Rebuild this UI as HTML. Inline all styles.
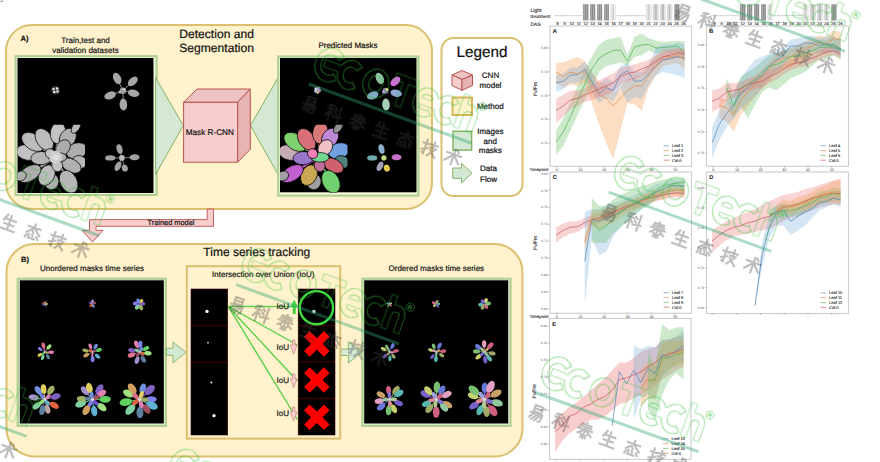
<!DOCTYPE html>
<html><head><meta charset="utf-8">
<style>
html,body{margin:0;padding:0;background:#fff;width:880px;height:462px;overflow:hidden}
svg{display:block;font-family:"Liberation Sans",sans-serif;text-rendering:geometricPrecision}
.tx{stroke:#1a1a1a;stroke-width:0.22px}
.t2{stroke:#333;stroke-width:0.12px}
</style></head><body>
<svg width="880" height="462" viewBox="0 0 880 462">
<path d="M0 1.4H2.5V0" fill="none" stroke="#999" stroke-width="0.9"/>
<!-- PANEL A -->
<rect x="6" y="25" width="426" height="184" rx="26" fill="#fff2cc" stroke="#dcc070" stroke-width="2"/>
<text class="tx" x="20.5" y="40.8" font-size="7.6" font-weight="bold" fill="#111">A)</text>
<text class="tx" x="85.5" y="43.3" font-size="8" text-anchor="middle" fill="#222">Train,test and</text>
<text class="tx" x="85.5" y="53" font-size="8" text-anchor="middle" fill="#222">validation datasets</text>
<text class="tx" x="216.6" y="38.3" font-size="12.1" text-anchor="middle" fill="#111">Detection and</text>
<text class="tx" x="216.6" y="52.3" font-size="12.1" text-anchor="middle" fill="#111">Segmentation</text>
<text class="tx" x="348" y="48" font-size="8" text-anchor="middle" fill="#111">Predicted Masks</text>
<rect x="15.6" y="56.2" width="141" height="138.8" fill="#fbfae2" stroke="#aed093" stroke-width="2.2"/>
<rect x="17.5" y="58" width="136" height="135" fill="#000"/>
<path d="M155.6 77.6 L183.3 125.6 L155.6 174.4 Z" fill="#d5e8d4" stroke="#82b366" stroke-width="1"/>
<path d="M278 77.6 L250.5 125.6 L278 174.4 Z" fill="#d5e8d4" stroke="#82b366" stroke-width="1"/>
<path d="M183.6 102.3 L197 89 L250.3 89 L237.6 102.3 Z" fill="#efc3c1" stroke="#b85450" stroke-width="1"/>
<path d="M237.6 102.3 L250.3 89 L250.3 149.3 L237.6 162.2 Z" fill="#e6b5b3" stroke="#b85450" stroke-width="1"/>
<rect x="183.6" y="102.3" width="54" height="59.9" fill="#f8cecc" stroke="#b85450" stroke-width="1"/>
<text class="tx" x="209.8" y="135.0" font-size="8.2" text-anchor="middle" fill="#111">Mask R-CNN</text>
<rect x="278.2" y="56.5" width="140.2" height="139.1" fill="#fbfae2" stroke="#aed093" stroke-width="2.2"/>
<rect x="280" y="58" width="136.5" height="134.3" fill="#000"/>
<!-- legend -->
<rect x="441.5" y="38" width="81" height="158" rx="12" fill="#fff" stroke="#dcc070" stroke-width="2"/>
<text class="tx" x="481.9" y="56.8" font-size="15.3" text-anchor="middle" fill="#111">Legend</text>
<g stroke="#b85450" stroke-width="1">
<path d="M452 75 L462 70.5 L472.5 75 L462 79.5 Z" fill="#efc3c1"/>
<path d="M452 75 L462 79.5 L462 90.3 L452 85.5 Z" fill="#f8cecc"/>
<path d="M462 79.5 L472.5 75 L472.5 85.5 L462 90.3 Z" fill="#e6b5b3"/>
</g>
<text class="tx" x="490.5" y="78.2" font-size="8" text-anchor="middle" fill="#111">CNN</text>
<text class="tx" x="490.5" y="87.5" font-size="8" text-anchor="middle" fill="#111">model</text>
<rect x="452.5" y="97.5" width="19.5" height="17.5" fill="#fff2cc" stroke="#d6b656" stroke-width="2"/>
<text class="tx" x="490.3" y="109.4" font-size="8" text-anchor="middle" fill="#111">Method</text>
<rect x="453" y="131.3" width="18.6" height="18.8" fill="#d5e8d4" stroke="#82b366" stroke-width="1.5"/>
<text class="tx" x="490.3" y="133.8" font-size="8" text-anchor="middle" fill="#111">Images</text>
<text class="tx" x="490.3" y="143.5" font-size="8" text-anchor="middle" fill="#111">and</text>
<text class="tx" x="490.3" y="152.8" font-size="8" text-anchor="middle" fill="#111">masks</text>
<path d="M452.8 168 L461.5 168 L461.5 163.3 L472 173.2 L461.5 183 L461.5 178.3 L452.8 178.3 Z" fill="#d5e8d4" stroke="#82b366" stroke-width="1"/>
<text class="tx" x="488.5" y="171.2" font-size="8" text-anchor="middle" fill="#111">Data</text>
<text class="tx" x="488.5" y="181.6" font-size="8" text-anchor="middle" fill="#111">Flow</text>
<path d="M207.2 209 L207.2 219.6 L89.5 219.6 L89.5 230.3 L82 230.3 L92.5 242 L103 230.3 L96 230.3 L96 226.3 L213.5 226.3 L213.5 209 Z" fill="#f8cecc" stroke="#b85450" stroke-width="0.9"/>
<text class="tx" x="171" y="225.3" font-size="7.4" text-anchor="middle" fill="#111">Trained model</text>
<!-- PANEL B -->
<rect x="6.5" y="244" width="516" height="212.5" rx="28" fill="#fff2cc" stroke="#dcc070" stroke-width="2"/>
<text class="tx" x="21" y="262.3" font-size="7.6" font-weight="bold" fill="#111">B)</text>
<text class="tx" x="256.8" y="255.7" font-size="12" text-anchor="middle" fill="#111">Time series tracking</text>
<text class="tx" x="92" y="270.7" font-size="8" text-anchor="middle" fill="#222">Unordered masks time series</text>
<text class="tx" x="436.3" y="270.5" font-size="8" text-anchor="middle" fill="#222">Ordered masks time series</text>
<rect x="17.7" y="278.7" width="148.1" height="147.2" fill="#e8f0d8" stroke="#aed093" stroke-width="2.2"/>
<rect x="19.8" y="280.3" width="144" height="143.2" fill="#000"/>
<rect x="362.4" y="278.7" width="148.1" height="147.2" fill="#e8f0d8" stroke="#aed093" stroke-width="2.2"/>
<rect x="364.2" y="280.3" width="144" height="143.2" fill="#000"/>
<path d="M166.5 348.2 L173 348.2 L173 342.1 L186 352.3 L173 362.9 L173 355.3 L166.5 355.3 Z" fill="#d5e8d4" stroke="#82b366" stroke-width="0.9"/>
<path d="M340.8 349 L348.4 349 L348.4 341.7 L362 352.3 L348.4 363 L348.4 355.5 L340.8 355.5 Z" fill="#d5e8d4" stroke="#82b366" stroke-width="0.9"/>
<!-- IoU box -->
<rect x="186.8" y="266.2" width="153.4" height="172.4" fill="#fff2cc" stroke="#dcc070" stroke-width="2"/>
<text class="tx" x="263.2" y="276.8" font-size="8" text-anchor="middle" fill="#222">Intersection over Union (IoU)</text>

<g>
<circle cx="55.5" cy="90.2" r="4.2" fill="#3c3c3c"/>
<circle cx="53.5" cy="89.0" r="1.25" fill="#e8e8e8"/>
<circle cx="57.1" cy="88.6" r="1.25" fill="#e8e8e8"/>
<circle cx="54.3" cy="92.0" r="1.25" fill="#e8e8e8"/>
<circle cx="57.5" cy="91.4" r="1.25" fill="#e8e8e8"/>
<line x1="122.9" y1="90.7" x2="117.2" y2="78.4" stroke="#999" stroke-width="0.9"/>
<ellipse cx="117.2" cy="78.4" rx="6.0" ry="3.8" transform="rotate(-115 117.2 78.4)" fill="#a6a6a6"/>
<line x1="122.9" y1="90.7" x2="132.8" y2="81.4" stroke="#999" stroke-width="0.9"/>
<ellipse cx="132.8" cy="81.4" rx="5.8" ry="3.7" transform="rotate(-43 132.8 81.4)" fill="#a6a6a6"/>
<line x1="122.9" y1="90.7" x2="133.6" y2="93.2" stroke="#999" stroke-width="0.9"/>
<ellipse cx="133.6" cy="93.2" rx="5.8" ry="3.6" transform="rotate(13 133.6 93.2)" fill="#a6a6a6"/>
<line x1="122.9" y1="90.7" x2="123.4" y2="104.5" stroke="#999" stroke-width="0.9"/>
<ellipse cx="123.4" cy="104.5" rx="6.0" ry="3.8" transform="rotate(88 123.4 104.5)" fill="#a6a6a6"/>
<line x1="122.9" y1="90.7" x2="110.1" y2="95.4" stroke="#999" stroke-width="0.9"/>
<ellipse cx="110.1" cy="95.4" rx="6.0" ry="3.7" transform="rotate(160 110.1 95.4)" fill="#a6a6a6"/>
<circle cx="122.9" cy="90.7" r="3.2" fill="#9a9a9a"/>
<circle cx="124" cy="89.6" r="1.5" fill="#c8c8c8"/>
<circle cx="120" cy="92" r="1.5" fill="#b8b8b8"/>
<line x1="121.9" y1="157.9" x2="119.5" y2="149.1" stroke="#999" stroke-width="0.8"/>
<ellipse cx="119.5" cy="149.1" rx="4.9" ry="2.9" transform="rotate(-105 119.5 149.1)" fill="#a2a2a2"/>
<line x1="121.9" y1="157.9" x2="110.2" y2="157.9" stroke="#999" stroke-width="0.8"/>
<ellipse cx="110.2" cy="157.9" rx="5.1" ry="2.7" transform="rotate(180 110.2 157.9)" fill="#a2a2a2"/>
<line x1="121.9" y1="157.9" x2="134.6" y2="157.2" stroke="#999" stroke-width="0.8"/>
<ellipse cx="134.6" cy="157.2" rx="5.0" ry="3.0" transform="rotate(-3 134.6 157.2)" fill="#a2a2a2"/>
<line x1="121.9" y1="157.9" x2="118.0" y2="166.2" stroke="#999" stroke-width="0.8"/>
<ellipse cx="118.0" cy="166.2" rx="5.0" ry="2.8" transform="rotate(115 118.0 166.2)" fill="#a2a2a2"/>
<line x1="121.9" y1="157.9" x2="124.8" y2="168.1" stroke="#999" stroke-width="0.8"/>
<ellipse cx="124.8" cy="168.1" rx="3.6" ry="3.0" transform="rotate(74 124.8 168.1)" fill="#a2a2a2"/>
<circle cx="121.9" cy="157.9" r="2.8" fill="#bbb"/>
<clipPath id="cqA"><rect x="17.5" y="124.8" width="67.5" height="68"/></clipPath>
<g clip-path="url(#cqA)">
<line x1="55.7" y1="157.3" x2="28.1" y2="152.5" stroke="#c2c2c2" stroke-width="2.0"/><ellipse cx="28.1" cy="152.5" rx="12.1" ry="7.8" transform="rotate(-170 28.1 152.5)" fill="#c2c2c2" stroke="#000" stroke-width="0.7"/>
<line x1="55.7" y1="157.3" x2="32.9" y2="141.9" stroke="#bcbcbc" stroke-width="2.0"/><ellipse cx="32.9" cy="141.9" rx="12.6" ry="7.8" transform="rotate(-146 32.9 141.9)" fill="#bcbcbc" stroke="#000" stroke-width="0.7"/>
<line x1="55.7" y1="157.3" x2="44.3" y2="139.5" stroke="#bcbcbc" stroke-width="2.0"/><ellipse cx="44.3" cy="139.5" rx="12.1" ry="7.8" transform="rotate(-123 44.3 139.5)" fill="#bcbcbc" stroke="#000" stroke-width="0.7"/>
<line x1="55.7" y1="157.3" x2="58.1" y2="133.0" stroke="#c2c2c2" stroke-width="2.0"/><ellipse cx="58.1" cy="133.0" rx="10.9" ry="7.8" transform="rotate(-84 58.1 133.0)" fill="#c2c2c2" stroke="#000" stroke-width="0.7"/>
<line x1="55.7" y1="157.3" x2="67.8" y2="137.9" stroke="#b0b0b0" stroke-width="2.0"/><ellipse cx="67.8" cy="137.9" rx="10.3" ry="7.8" transform="rotate(-58 67.8 137.9)" fill="#b0b0b0" stroke="#000" stroke-width="0.7"/>
<line x1="55.7" y1="157.3" x2="76.7" y2="150.8" stroke="#acacac" stroke-width="2.0"/><ellipse cx="76.7" cy="150.8" rx="10.9" ry="7.8" transform="rotate(-17 76.7 150.8)" fill="#acacac" stroke="#000" stroke-width="0.7"/>
<line x1="55.7" y1="157.3" x2="79.2" y2="162.2" stroke="#b6b6b6" stroke-width="2.0"/><ellipse cx="79.2" cy="162.2" rx="7.5" ry="6.6" transform="rotate(12 79.2 162.2)" fill="#b6b6b6" stroke="#000" stroke-width="0.7"/>
<line x1="55.7" y1="157.3" x2="71.1" y2="165.5" stroke="#b0b0b0" stroke-width="2.0"/><ellipse cx="71.1" cy="165.5" rx="10.9" ry="6.6" transform="rotate(28 71.1 165.5)" fill="#b0b0b0" stroke="#000" stroke-width="0.7"/>
<line x1="55.7" y1="157.3" x2="68.6" y2="181.7" stroke="#b6b6b6" stroke-width="2.0"/><ellipse cx="68.6" cy="181.7" rx="12.1" ry="8.4" transform="rotate(62 68.6 181.7)" fill="#b6b6b6" stroke="#000" stroke-width="0.7"/>
<line x1="55.7" y1="157.3" x2="51.6" y2="181.7" stroke="#b0b0b0" stroke-width="2.0"/><ellipse cx="51.6" cy="181.7" rx="8.0" ry="7.2" transform="rotate(100 51.6 181.7)" fill="#b0b0b0" stroke="#000" stroke-width="0.7"/>
<line x1="55.7" y1="157.3" x2="46.7" y2="175.2" stroke="#bcbcbc" stroke-width="2.0"/><ellipse cx="46.7" cy="175.2" rx="10.9" ry="7.8" transform="rotate(117 46.7 175.2)" fill="#bcbcbc" stroke="#000" stroke-width="0.7"/>
<line x1="55.7" y1="157.3" x2="29.7" y2="173.6" stroke="#acacac" stroke-width="2.0"/><ellipse cx="29.7" cy="173.6" rx="12.6" ry="7.2" transform="rotate(148 29.7 173.6)" fill="#acacac" stroke="#000" stroke-width="0.7"/>
<line x1="55.7" y1="157.3" x2="41.0" y2="158.1" stroke="#b6b6b6" stroke-width="2.0"/><ellipse cx="41.0" cy="158.1" rx="10.3" ry="6.6" transform="rotate(177 41.0 158.1)" fill="#b6b6b6" stroke="#000" stroke-width="0.7"/>
<line x1="55.7" y1="157.3" x2="63.0" y2="147.6" stroke="#acacac" stroke-width="2.0"/><ellipse cx="63.0" cy="147.6" rx="8.6" ry="6.6" transform="rotate(-53 63.0 147.6)" fill="#acacac" stroke="#000" stroke-width="0.7"/>
<line x1="55.7" y1="157.3" x2="57.3" y2="165.5" stroke="#c2c2c2" stroke-width="2.0"/><ellipse cx="57.3" cy="165.5" rx="6.3" ry="5.4" transform="rotate(79 57.3 165.5)" fill="#c2c2c2" stroke="#000" stroke-width="0.7"/>
<line x1="55.7" y1="157.3" x2="57.6" y2="157.3" stroke="#b0b0b0" stroke-width="2.0"/><ellipse cx="57.6" cy="157.3" rx="9.2" ry="4.8" transform="rotate(0 57.6 157.3)" fill="#b0b0b0" stroke="#000" stroke-width="0.7"/>
<line x1="55.7" y1="157.3" x2="50.3" y2="153.6" stroke="#c2c2c2" stroke-width="2.0"/><ellipse cx="50.3" cy="153.6" rx="5.2" ry="4.8" transform="rotate(-146 50.3 153.6)" fill="#c2c2c2" stroke="#000" stroke-width="0.7"/>
<ellipse cx="76.0" cy="127.3" rx="6.9" ry="3.6" transform="rotate(-56 76.0 127.3)" fill="#b6b6b6" stroke="#000" stroke-width="0.7"/>
<ellipse cx="20.7" cy="176.0" rx="5.8" ry="4.8" transform="rotate(152 20.7 176.0)" fill="#b0b0b0" stroke="#000" stroke-width="0.7"/>
<circle cx="55.7" cy="157.3" r="6.5" fill="#cfcfcf"/>
<circle cx="55.7" cy="157.3" r="3" fill="#dedede"/>
</g>
</g>
<g>
<circle cx="317.4" cy="90.2" r="3.4" fill="#5a4a60"/>
<ellipse cx="319.4" cy="90.5" rx="1.5" ry="1.2" transform="rotate(10 319.4 90.5)" fill="#d08ad0"/>
<ellipse cx="317.7" cy="92.2" rx="1.5" ry="1.2" transform="rotate(82 317.7 92.2)" fill="#e0d080"/>
<ellipse cx="315.6" cy="91.1" rx="1.5" ry="1.2" transform="rotate(154 315.6 91.1)" fill="#a0c0e0"/>
<ellipse cx="316.0" cy="88.8" rx="1.5" ry="1.2" transform="rotate(226 316.0 88.8)" fill="#e8e8e8"/>
<ellipse cx="318.3" cy="88.4" rx="1.5" ry="1.2" transform="rotate(298 318.3 88.4)" fill="#c0a0e0"/>
<ellipse cx="379.8" cy="78.4" rx="6.0" ry="3.8" transform="rotate(-115 379.8 78.4)" fill="#8fc0a0"/>
<ellipse cx="395.4" cy="81.4" rx="5.8" ry="3.7" transform="rotate(-43 395.4 81.4)" fill="#d070d8"/>
<ellipse cx="396.2" cy="93.2" rx="5.8" ry="3.6" transform="rotate(13 396.2 93.2)" fill="#8aa8d0"/>
<ellipse cx="386.0" cy="104.5" rx="6.0" ry="3.8" transform="rotate(88 386.0 104.5)" fill="#a8d0b8"/>
<ellipse cx="372.7" cy="95.4" rx="6.0" ry="3.7" transform="rotate(160 372.7 95.4)" fill="#7fa8c0"/>
<circle cx="385.5" cy="90.7" r="3.0" fill="#8878a8"/>
<circle cx="387" cy="89.5" r="1.5" fill="#e8e080"/>
<circle cx="383.5" cy="92" r="1.4" fill="#c0a0e0"/>
<ellipse cx="381.5" cy="149.1" rx="4.9" ry="2.9" transform="rotate(-105 381.5 149.1)" fill="#90b0d0"/>
<ellipse cx="372.2" cy="157.9" rx="5.1" ry="2.7" transform="rotate(180 372.2 157.9)" fill="#70a8b0"/>
<ellipse cx="396.6" cy="157.2" rx="5.0" ry="3.0" transform="rotate(-3 396.6 157.2)" fill="#c870c8"/>
<ellipse cx="380.0" cy="166.2" rx="5.0" ry="2.8" transform="rotate(115 380.0 166.2)" fill="#a0a0b8"/>
<ellipse cx="386.8" cy="168.1" rx="3.6" ry="3.0" transform="rotate(74 386.8 168.1)" fill="#e0c850"/>
<circle cx="383.9" cy="157.9" r="2.6" fill="#c0e080"/>
<clipPath id="cqB"><rect x="280.0" y="124.8" width="67.5" height="68"/></clipPath>
<g clip-path="url(#cqB)">
<line x1="318.0" y1="157.3" x2="290.4" y2="152.5" stroke="#c4aab4" stroke-width="2.0"/><ellipse cx="290.4" cy="152.5" rx="12.1" ry="7.8" transform="rotate(-170 290.4 152.5)" fill="#c4aab4" stroke="#000" stroke-width="0.7"/>
<line x1="318.0" y1="157.3" x2="295.2" y2="141.9" stroke="#80d070" stroke-width="2.0"/><ellipse cx="295.2" cy="141.9" rx="12.6" ry="7.8" transform="rotate(-146 295.2 141.9)" fill="#80d070" stroke="#000" stroke-width="0.7"/>
<line x1="318.0" y1="157.3" x2="306.6" y2="139.5" stroke="#d8707a" stroke-width="2.0"/><ellipse cx="306.6" cy="139.5" rx="12.1" ry="7.8" transform="rotate(-123 306.6 139.5)" fill="#d8707a" stroke="#000" stroke-width="0.7"/>
<line x1="318.0" y1="157.3" x2="320.4" y2="133.0" stroke="#d87878" stroke-width="2.0"/><ellipse cx="320.4" cy="133.0" rx="10.9" ry="7.8" transform="rotate(-84 320.4 133.0)" fill="#d87878" stroke="#000" stroke-width="0.7"/>
<line x1="318.0" y1="157.3" x2="330.1" y2="137.9" stroke="#c088d8" stroke-width="2.0"/><ellipse cx="330.1" cy="137.9" rx="10.3" ry="7.8" transform="rotate(-58 330.1 137.9)" fill="#c088d8" stroke="#000" stroke-width="0.7"/>
<line x1="318.0" y1="157.3" x2="339.0" y2="150.8" stroke="#70a0e0" stroke-width="2.0"/><ellipse cx="339.0" cy="150.8" rx="10.9" ry="7.8" transform="rotate(-17 339.0 150.8)" fill="#70a0e0" stroke="#000" stroke-width="0.7"/>
<line x1="318.0" y1="157.3" x2="341.5" y2="162.2" stroke="#508080" stroke-width="2.0"/><ellipse cx="341.5" cy="162.2" rx="7.5" ry="6.6" transform="rotate(12 341.5 162.2)" fill="#508080" stroke="#000" stroke-width="0.7"/>
<line x1="318.0" y1="157.3" x2="333.4" y2="165.5" stroke="#d06070" stroke-width="2.0"/><ellipse cx="333.4" cy="165.5" rx="10.9" ry="6.6" transform="rotate(28 333.4 165.5)" fill="#d06070" stroke="#000" stroke-width="0.7"/>
<line x1="318.0" y1="157.3" x2="330.9" y2="181.7" stroke="#70d070" stroke-width="2.0"/><ellipse cx="330.9" cy="181.7" rx="12.1" ry="8.4" transform="rotate(62 330.9 181.7)" fill="#70d070" stroke="#000" stroke-width="0.7"/>
<line x1="318.0" y1="157.3" x2="313.9" y2="181.7" stroke="#a0a0a0" stroke-width="2.0"/><ellipse cx="313.9" cy="181.7" rx="8.0" ry="7.2" transform="rotate(100 313.9 181.7)" fill="#a0a0a0" stroke="#000" stroke-width="0.7"/>
<line x1="318.0" y1="157.3" x2="309.0" y2="175.2" stroke="#c8a850" stroke-width="2.0"/><ellipse cx="309.0" cy="175.2" rx="10.9" ry="7.8" transform="rotate(117 309.0 175.2)" fill="#c8a850" stroke="#000" stroke-width="0.7"/>
<line x1="318.0" y1="157.3" x2="292.0" y2="173.6" stroke="#c060d0" stroke-width="2.0"/><ellipse cx="292.0" cy="173.6" rx="12.6" ry="7.2" transform="rotate(148 292.0 173.6)" fill="#c060d0" stroke="#000" stroke-width="0.7"/>
<line x1="318.0" y1="157.3" x2="303.3" y2="158.1" stroke="#9878c8" stroke-width="2.0"/><ellipse cx="303.3" cy="158.1" rx="10.3" ry="6.6" transform="rotate(177 303.3 158.1)" fill="#9878c8" stroke="#000" stroke-width="0.7"/>
<line x1="318.0" y1="157.3" x2="325.3" y2="147.6" stroke="#f0c0c8" stroke-width="2.0"/><ellipse cx="325.3" cy="147.6" rx="8.6" ry="6.6" transform="rotate(-53 325.3 147.6)" fill="#f0c0c8" stroke="#000" stroke-width="0.7"/>
<line x1="318.0" y1="157.3" x2="319.6" y2="165.5" stroke="#c07098" stroke-width="2.0"/><ellipse cx="319.6" cy="165.5" rx="6.3" ry="5.4" transform="rotate(79 319.6 165.5)" fill="#c07098" stroke="#000" stroke-width="0.7"/>
<line x1="318.0" y1="157.3" x2="319.9" y2="157.3" stroke="#70d890" stroke-width="2.0"/><ellipse cx="319.9" cy="157.3" rx="9.2" ry="4.8" transform="rotate(0 319.9 157.3)" fill="#70d890" stroke="#000" stroke-width="0.7"/>
<line x1="318.0" y1="157.3" x2="312.6" y2="153.6" stroke="#f080b8" stroke-width="2.0"/><ellipse cx="312.6" cy="153.6" rx="5.2" ry="4.8" transform="rotate(-146 312.6 153.6)" fill="#f080b8" stroke="#000" stroke-width="0.7"/>
<ellipse cx="338.3" cy="127.3" rx="6.9" ry="3.6" transform="rotate(-56 338.3 127.3)" fill="#909090" stroke="#000" stroke-width="0.7"/>
<ellipse cx="283.0" cy="176.0" rx="5.8" ry="4.8" transform="rotate(152 283.0 176.0)" fill="#a0a0a0" stroke="#000" stroke-width="0.7"/>
</g>
</g>
<ellipse cx="43.4" cy="303.1" rx="1.2" ry="0.8" transform="rotate(212 43.4 303.1)" fill="#e07090"/>
<ellipse cx="45.4" cy="302.4" rx="1.2" ry="0.9" transform="rotate(291 45.4 302.4)" fill="#d0a060"/>
<ellipse cx="46.6" cy="304.0" rx="1.3" ry="0.9" transform="rotate(361 46.6 304.0)" fill="#e0d060"/>
<ellipse cx="45.5" cy="305.3" rx="1.1" ry="0.8" transform="rotate(422 45.5 305.3)" fill="#a090d0"/>
<ellipse cx="43.3" cy="304.8" rx="1.2" ry="0.9" transform="rotate(510 43.3 304.8)" fill="#8060c0"/>
<ellipse cx="44.9" cy="303.2" rx="0.6" ry="0.3" transform="rotate(280 44.9 303.2)" fill="#60b0d0"/>
<ellipse cx="45.4" cy="304.5" rx="0.6" ry="0.3" transform="rotate(400 45.4 304.5)" fill="#80d0a0"/>
<ellipse cx="44.1" cy="304.3" rx="0.6" ry="0.3" transform="rotate(520 44.1 304.3)" fill="#6080a0"/>
<circle cx="44.8" cy="304.0" r="0.6" fill="#d8d8d8"/>
<ellipse cx="93.4" cy="306.1" rx="1.6" ry="1.2" transform="rotate(67 93.4 306.1)" fill="#8080f0"/>
<ellipse cx="90.9" cy="305.5" rx="1.6" ry="1.2" transform="rotate(137 90.9 305.5)" fill="#e06040"/>
<ellipse cx="90.4" cy="302.9" rx="1.7" ry="1.2" transform="rotate(206 90.4 302.9)" fill="#7050d0"/>
<ellipse cx="92.6" cy="301.3" rx="1.9" ry="1.4" transform="rotate(273 92.6 301.3)" fill="#a090d0"/>
<ellipse cx="94.6" cy="303.1" rx="1.6" ry="1.2" transform="rotate(337 94.6 303.1)" fill="#a05060"/>
<ellipse cx="93.5" cy="303.4" rx="0.9" ry="0.5" transform="rotate(329 93.5 303.4)" fill="#8060c0"/>
<ellipse cx="92.5" cy="305.2" rx="0.9" ry="0.5" transform="rotate(449 92.5 305.2)" fill="#60d060"/>
<ellipse cx="91.5" cy="303.4" rx="0.9" ry="0.5" transform="rotate(569 91.5 303.4)" fill="#c0a0a0"/>
<circle cx="92.5" cy="304.0" r="0.6" fill="#d8d8d8"/>
<ellipse cx="141.4" cy="301.3" rx="2.3" ry="1.7" transform="rotate(304 141.4 301.3)" fill="#e0d060"/>
<ellipse cx="142.9" cy="303.8" rx="2.4" ry="1.7" transform="rotate(357 142.9 303.8)" fill="#8060c0"/>
<ellipse cx="141.0" cy="307.6" rx="2.8" ry="2.0" transform="rotate(429 141.0 307.6)" fill="#a0b060"/>
<ellipse cx="137.3" cy="307.0" rx="2.8" ry="2.0" transform="rotate(488 137.3 307.0)" fill="#80d0a0"/>
<ellipse cx="135.7" cy="303.6" rx="2.8" ry="2.0" transform="rotate(546 135.7 303.6)" fill="#8080f0"/>
<ellipse cx="138.3" cy="300.9" rx="2.5" ry="1.8" transform="rotate(607 138.3 300.9)" fill="#7090e0"/>
<ellipse cx="140.6" cy="302.6" rx="1.3" ry="0.7" transform="rotate(306 140.6 302.6)" fill="#d0a060"/>
<ellipse cx="140.3" cy="305.5" rx="1.3" ry="0.7" transform="rotate(426 140.3 305.5)" fill="#a090d0"/>
<ellipse cx="137.9" cy="303.8" rx="1.3" ry="0.7" transform="rotate(546 137.9 303.8)" fill="#7050d0"/>
<circle cx="139.6" cy="304.0" r="0.6" fill="#d8d8d8"/>
<line x1="44.8" y1="352.0" x2="49.0" y2="346.9" stroke="#a0e080" stroke-width="0.6"/>
<ellipse cx="49.0" cy="346.9" rx="3.0" ry="1.8" transform="rotate(310 49.0 346.9)" fill="#a0e080"/>
<line x1="44.8" y1="352.0" x2="51.2" y2="352.2" stroke="#e080b0" stroke-width="0.6"/>
<ellipse cx="51.2" cy="352.2" rx="2.9" ry="1.7" transform="rotate(362 51.2 352.2)" fill="#e080b0"/>
<line x1="44.8" y1="352.0" x2="48.0" y2="356.8" stroke="#6080a0" stroke-width="0.6"/>
<ellipse cx="48.0" cy="356.8" rx="2.6" ry="1.6" transform="rotate(417 48.0 356.8)" fill="#6080a0"/>
<line x1="44.8" y1="352.0" x2="42.7" y2="357.5" stroke="#80d0a0" stroke-width="0.6"/>
<ellipse cx="42.7" cy="357.5" rx="2.7" ry="1.6" transform="rotate(471 42.7 357.5)" fill="#80d0a0"/>
<line x1="44.8" y1="352.0" x2="39.9" y2="354.9" stroke="#e0d060" stroke-width="0.6"/>
<ellipse cx="39.9" cy="354.9" rx="2.5" ry="1.5" transform="rotate(509 39.9 354.9)" fill="#e0d060"/>
<line x1="44.8" y1="352.0" x2="40.1" y2="349.0" stroke="#8080f0" stroke-width="0.6"/>
<ellipse cx="40.1" cy="349.0" rx="2.5" ry="1.5" transform="rotate(573 40.1 349.0)" fill="#8080f0"/>
<line x1="44.8" y1="352.0" x2="43.4" y2="345.5" stroke="#e07090" stroke-width="0.6"/>
<ellipse cx="43.4" cy="345.5" rx="3.0" ry="1.8" transform="rotate(618 43.4 345.5)" fill="#e07090"/>
<ellipse cx="43.0" cy="353.7" rx="1.9" ry="1.0" transform="rotate(137 43.0 353.7)" fill="#60d060"/>
<ellipse cx="44.3" cy="349.6" rx="1.9" ry="1.0" transform="rotate(257 44.3 349.6)" fill="#a05060"/>
<ellipse cx="47.2" cy="352.7" rx="1.9" ry="1.0" transform="rotate(377 47.2 352.7)" fill="#a0b060"/>
<circle cx="44.8" cy="352.0" r="0.9" fill="#d8d8d8"/>
<line x1="92.5" y1="352.0" x2="92.6" y2="359.0" stroke="#8080f0" stroke-width="0.6"/>
<ellipse cx="92.6" cy="359.0" rx="3.2" ry="1.9" transform="rotate(89 92.6 359.0)" fill="#8080f0"/>
<line x1="92.5" y1="352.0" x2="86.3" y2="355.1" stroke="#d0a060" stroke-width="0.6"/>
<ellipse cx="86.3" cy="355.1" rx="3.1" ry="1.9" transform="rotate(154 86.3 355.1)" fill="#d0a060"/>
<line x1="92.5" y1="352.0" x2="85.5" y2="350.5" stroke="#a0b060" stroke-width="0.6"/>
<ellipse cx="85.5" cy="350.5" rx="3.2" ry="1.9" transform="rotate(192 85.5 350.5)" fill="#a0b060"/>
<line x1="92.5" y1="352.0" x2="90.3" y2="346.2" stroke="#e080b0" stroke-width="0.6"/>
<ellipse cx="90.3" cy="346.2" rx="2.8" ry="1.7" transform="rotate(249 90.3 346.2)" fill="#e080b0"/>
<line x1="92.5" y1="352.0" x2="95.7" y2="346.4" stroke="#7090e0" stroke-width="0.6"/>
<ellipse cx="95.7" cy="346.4" rx="2.9" ry="1.7" transform="rotate(300 95.7 346.4)" fill="#7090e0"/>
<line x1="92.5" y1="352.0" x2="98.9" y2="350.1" stroke="#60d060" stroke-width="0.6"/>
<ellipse cx="98.9" cy="350.1" rx="3.0" ry="1.8" transform="rotate(344 98.9 350.1)" fill="#60d060"/>
<line x1="92.5" y1="352.0" x2="97.6" y2="356.3" stroke="#60b0d0" stroke-width="0.6"/>
<ellipse cx="97.6" cy="356.3" rx="3.0" ry="1.8" transform="rotate(401 97.6 356.3)" fill="#60b0d0"/>
<ellipse cx="94.9" cy="350.9" rx="2.0" ry="1.1" transform="rotate(335 94.9 350.9)" fill="#a05060"/>
<ellipse cx="92.3" cy="354.6" rx="2.0" ry="1.1" transform="rotate(455 92.3 354.6)" fill="#e07090"/>
<ellipse cx="90.4" cy="350.5" rx="2.0" ry="1.1" transform="rotate(575 90.4 350.5)" fill="#e06040"/>
<circle cx="92.5" cy="352.0" r="0.9" fill="#d8d8d8"/>
<line x1="139.6" y1="352.0" x2="136.6" y2="344.2" stroke="#e080b0" stroke-width="0.8"/>
<ellipse cx="136.6" cy="344.2" rx="3.8" ry="2.2" transform="rotate(249 136.6 344.2)" fill="#e080b0"/>
<line x1="139.6" y1="352.0" x2="140.3" y2="344.3" stroke="#8080f0" stroke-width="0.8"/>
<ellipse cx="140.3" cy="344.3" rx="3.5" ry="2.1" transform="rotate(275 140.3 344.3)" fill="#8080f0"/>
<line x1="139.6" y1="352.0" x2="146.1" y2="348.6" stroke="#60d060" stroke-width="0.8"/>
<ellipse cx="146.1" cy="348.6" rx="3.3" ry="2.0" transform="rotate(332 146.1 348.6)" fill="#60d060"/>
<line x1="139.6" y1="352.0" x2="147.9" y2="353.2" stroke="#a0e080" stroke-width="0.8"/>
<ellipse cx="147.9" cy="353.2" rx="3.8" ry="2.2" transform="rotate(368 147.9 353.2)" fill="#a0e080"/>
<line x1="139.6" y1="352.0" x2="143.3" y2="359.2" stroke="#6080a0" stroke-width="0.8"/>
<ellipse cx="143.3" cy="359.2" rx="3.7" ry="2.2" transform="rotate(423 143.3 359.2)" fill="#6080a0"/>
<line x1="139.6" y1="352.0" x2="137.1" y2="360.2" stroke="#a090d0" stroke-width="0.8"/>
<ellipse cx="137.1" cy="360.2" rx="3.8" ry="2.3" transform="rotate(467 137.1 360.2)" fill="#a090d0"/>
<line x1="139.6" y1="352.0" x2="131.5" y2="355.0" stroke="#e07090" stroke-width="0.8"/>
<ellipse cx="131.5" cy="355.0" rx="3.9" ry="2.3" transform="rotate(520 131.5 355.0)" fill="#e07090"/>
<line x1="139.6" y1="352.0" x2="131.7" y2="350.3" stroke="#8060c0" stroke-width="0.8"/>
<ellipse cx="131.7" cy="350.3" rx="3.6" ry="2.2" transform="rotate(552 131.7 350.3)" fill="#8060c0"/>
<ellipse cx="142.4" cy="353.7" rx="2.5" ry="1.4" transform="rotate(31 142.4 353.7)" fill="#e06040"/>
<ellipse cx="137.9" cy="354.8" rx="2.5" ry="1.4" transform="rotate(121 137.9 354.8)" fill="#a05060"/>
<ellipse cx="136.8" cy="350.3" rx="2.5" ry="1.4" transform="rotate(211 136.8 350.3)" fill="#80d0a0"/>
<ellipse cx="141.3" cy="349.2" rx="2.5" ry="1.4" transform="rotate(301 141.3 349.2)" fill="#7090e0"/>
<circle cx="139.6" cy="352.0" r="1.1" fill="#d8d8d8"/>
<line x1="44.8" y1="399.5" x2="38.4" y2="390.6" stroke="#7090e0" stroke-width="1.0"/>
<ellipse cx="38.4" cy="390.6" rx="4.9" ry="2.9" transform="rotate(234 38.4 390.6)" fill="#7090e0"/>
<line x1="44.8" y1="399.5" x2="43.6" y2="389.0" stroke="#e0d060" stroke-width="1.0"/>
<ellipse cx="43.6" cy="389.0" rx="4.8" ry="2.8" transform="rotate(263 43.6 389.0)" fill="#e0d060"/>
<line x1="44.8" y1="399.5" x2="50.9" y2="390.2" stroke="#a0b060" stroke-width="1.0"/>
<ellipse cx="50.9" cy="390.2" rx="5.0" ry="3.0" transform="rotate(303 50.9 390.2)" fill="#a0b060"/>
<line x1="44.8" y1="399.5" x2="55.7" y2="396.5" stroke="#8060c0" stroke-width="1.0"/>
<ellipse cx="55.7" cy="396.5" rx="5.1" ry="3.0" transform="rotate(345 55.7 396.5)" fill="#8060c0"/>
<line x1="44.8" y1="399.5" x2="54.3" y2="405.3" stroke="#e06040" stroke-width="1.0"/>
<ellipse cx="54.3" cy="405.3" rx="5.0" ry="3.0" transform="rotate(391 54.3 405.3)" fill="#e06040"/>
<line x1="44.8" y1="399.5" x2="47.5" y2="409.2" stroke="#c0a0a0" stroke-width="1.0"/>
<ellipse cx="47.5" cy="409.2" rx="4.5" ry="2.7" transform="rotate(434 47.5 409.2)" fill="#c0a0a0"/>
<line x1="44.8" y1="399.5" x2="42.3" y2="410.2" stroke="#6080a0" stroke-width="1.0"/>
<ellipse cx="42.3" cy="410.2" rx="4.9" ry="2.9" transform="rotate(463 42.3 410.2)" fill="#6080a0"/>
<line x1="44.8" y1="399.5" x2="36.7" y2="405.8" stroke="#80d0a0" stroke-width="1.0"/>
<ellipse cx="36.7" cy="405.8" rx="4.6" ry="2.8" transform="rotate(502 36.7 405.8)" fill="#80d0a0"/>
<line x1="44.8" y1="399.5" x2="33.7" y2="397.4" stroke="#a090d0" stroke-width="1.0"/>
<ellipse cx="33.7" cy="397.4" rx="5.1" ry="3.0" transform="rotate(551 33.7 397.4)" fill="#a090d0"/>
<ellipse cx="42.2" cy="396.3" rx="3.2" ry="1.8" transform="rotate(230 42.2 396.3)" fill="#8080f0"/>
<ellipse cx="48.0" cy="396.9" rx="3.2" ry="1.8" transform="rotate(320 48.0 396.9)" fill="#e080b0"/>
<ellipse cx="47.4" cy="402.7" rx="3.2" ry="1.8" transform="rotate(410 47.4 402.7)" fill="#60b0d0"/>
<ellipse cx="41.6" cy="402.1" rx="3.2" ry="1.8" transform="rotate(500 41.6 402.1)" fill="#a0e080"/>
<circle cx="44.8" cy="399.5" r="1.4" fill="#d8d8d8"/>
<line x1="92.5" y1="399.5" x2="86.4" y2="410.0" stroke="#d0a060" stroke-width="1.1"/>
<ellipse cx="86.4" cy="410.0" rx="5.5" ry="3.3" transform="rotate(120 86.4 410.0)" fill="#d0a060"/>
<line x1="92.5" y1="399.5" x2="80.7" y2="403.8" stroke="#80d0a0" stroke-width="1.1"/>
<ellipse cx="80.7" cy="403.8" rx="5.6" ry="3.4" transform="rotate(160 80.7 403.8)" fill="#80d0a0"/>
<line x1="92.5" y1="399.5" x2="81.7" y2="398.8" stroke="#a0b060" stroke-width="1.1"/>
<ellipse cx="81.7" cy="398.8" rx="4.9" ry="2.9" transform="rotate(183 81.7 398.8)" fill="#a0b060"/>
<line x1="92.5" y1="399.5" x2="84.9" y2="390.6" stroke="#a090d0" stroke-width="1.1"/>
<ellipse cx="84.9" cy="390.6" rx="5.2" ry="3.1" transform="rotate(229 84.9 390.6)" fill="#a090d0"/>
<line x1="92.5" y1="399.5" x2="89.4" y2="388.0" stroke="#e0d060" stroke-width="1.1"/>
<ellipse cx="89.4" cy="388.0" rx="5.3" ry="3.2" transform="rotate(255 89.4 388.0)" fill="#e0d060"/>
<line x1="92.5" y1="399.5" x2="99.4" y2="389.3" stroke="#8060c0" stroke-width="1.1"/>
<ellipse cx="99.4" cy="389.3" rx="5.5" ry="3.3" transform="rotate(304 99.4 389.3)" fill="#8060c0"/>
<line x1="92.5" y1="399.5" x2="101.7" y2="393.5" stroke="#e080b0" stroke-width="1.1"/>
<ellipse cx="101.7" cy="393.5" rx="4.9" ry="2.9" transform="rotate(327 101.7 393.5)" fill="#e080b0"/>
<line x1="92.5" y1="399.5" x2="105.1" y2="399.3" stroke="#60d060" stroke-width="1.1"/>
<ellipse cx="105.1" cy="399.3" rx="5.7" ry="3.4" transform="rotate(359 105.1 399.3)" fill="#60d060"/>
<line x1="92.5" y1="399.5" x2="101.8" y2="407.1" stroke="#a0e080" stroke-width="1.1"/>
<ellipse cx="101.8" cy="407.1" rx="5.4" ry="3.2" transform="rotate(399 101.8 407.1)" fill="#a0e080"/>
<line x1="92.5" y1="399.5" x2="94.2" y2="411.1" stroke="#60b0d0" stroke-width="1.1"/>
<ellipse cx="94.2" cy="411.1" rx="5.3" ry="3.1" transform="rotate(442 94.2 411.1)" fill="#60b0d0"/>
<ellipse cx="88.0" cy="398.7" rx="3.5" ry="1.9" transform="rotate(190 88.0 398.7)" fill="#6080a0"/>
<ellipse cx="91.8" cy="395.0" rx="3.5" ry="1.9" transform="rotate(262 91.8 395.0)" fill="#7090e0"/>
<ellipse cx="96.6" cy="397.5" rx="3.5" ry="1.9" transform="rotate(334 96.6 397.5)" fill="#a05060"/>
<ellipse cx="95.7" cy="402.8" rx="3.5" ry="1.9" transform="rotate(406 95.7 402.8)" fill="#7050d0"/>
<ellipse cx="90.4" cy="403.5" rx="3.5" ry="1.9" transform="rotate(478 90.4 403.5)" fill="#8080f0"/>
<circle cx="92.5" cy="399.5" r="1.6" fill="#d8d8d8"/>
<line x1="139.6" y1="399.5" x2="142.8" y2="388.5" stroke="#7090e0" stroke-width="1.2"/>
<ellipse cx="142.8" cy="388.5" rx="5.2" ry="3.1" transform="rotate(286 142.8 388.5)" fill="#7090e0"/>
<line x1="139.6" y1="399.5" x2="149.7" y2="390.0" stroke="#8060c0" stroke-width="1.2"/>
<ellipse cx="149.7" cy="390.0" rx="6.2" ry="3.7" transform="rotate(317 149.7 390.0)" fill="#8060c0"/>
<line x1="139.6" y1="399.5" x2="151.3" y2="399.3" stroke="#8080f0" stroke-width="1.2"/>
<ellipse cx="151.3" cy="399.3" rx="5.3" ry="3.1" transform="rotate(359 151.3 399.3)" fill="#8080f0"/>
<line x1="139.6" y1="399.5" x2="152.0" y2="405.4" stroke="#60b0d0" stroke-width="1.2"/>
<ellipse cx="152.0" cy="405.4" rx="6.2" ry="3.7" transform="rotate(386 152.0 405.4)" fill="#60b0d0"/>
<line x1="139.6" y1="399.5" x2="146.5" y2="409.0" stroke="#a05060" stroke-width="1.2"/>
<ellipse cx="146.5" cy="409.0" rx="5.3" ry="3.1" transform="rotate(414 146.5 409.0)" fill="#a05060"/>
<line x1="139.6" y1="399.5" x2="139.9" y2="412.5" stroke="#6080a0" stroke-width="1.2"/>
<ellipse cx="139.9" cy="412.5" rx="5.8" ry="3.5" transform="rotate(449 139.9 412.5)" fill="#6080a0"/>
<line x1="139.6" y1="399.5" x2="130.3" y2="409.6" stroke="#80d0a0" stroke-width="1.2"/>
<ellipse cx="130.3" cy="409.6" rx="6.2" ry="3.7" transform="rotate(493 130.3 409.6)" fill="#80d0a0"/>
<line x1="139.6" y1="399.5" x2="125.8" y2="402.1" stroke="#60d060" stroke-width="1.2"/>
<ellipse cx="125.8" cy="402.1" rx="6.3" ry="3.8" transform="rotate(529 125.8 402.1)" fill="#60d060"/>
<line x1="139.6" y1="399.5" x2="128.3" y2="393.5" stroke="#a0e080" stroke-width="1.2"/>
<ellipse cx="128.3" cy="393.5" rx="5.7" ry="3.4" transform="rotate(568 128.3 393.5)" fill="#a0e080"/>
<line x1="139.6" y1="399.5" x2="132.2" y2="388.7" stroke="#d0a060" stroke-width="1.2"/>
<ellipse cx="132.2" cy="388.7" rx="5.9" ry="3.5" transform="rotate(596 132.2 388.7)" fill="#d0a060"/>
<ellipse cx="135.4" cy="402.3" rx="3.9" ry="2.1" transform="rotate(146 135.4 402.3)" fill="#e06040"/>
<ellipse cx="135.6" cy="396.4" rx="3.9" ry="2.1" transform="rotate(218 135.6 396.4)" fill="#e07090"/>
<ellipse cx="141.4" cy="394.7" rx="3.9" ry="2.1" transform="rotate(290 141.4 394.7)" fill="#e0d060"/>
<ellipse cx="144.7" cy="399.7" rx="3.9" ry="2.1" transform="rotate(362 144.7 399.7)" fill="#a0b060"/>
<ellipse cx="141.0" cy="404.4" rx="3.9" ry="2.1" transform="rotate(434 141.0 404.4)" fill="#e080b0"/>
<circle cx="139.6" cy="399.5" r="1.8" fill="#d8d8d8"/>
<ellipse cx="390.7" cy="305.4" rx="1.3" ry="0.9" transform="rotate(52 390.7 305.4)" fill="#d06080"/>
<ellipse cx="388.5" cy="305.4" rx="1.3" ry="0.9" transform="rotate(129 388.5 305.4)" fill="#a0a868"/>
<ellipse cx="387.9" cy="303.5" rx="1.3" ry="0.9" transform="rotate(195 387.9 303.5)" fill="#58b8b0"/>
<ellipse cx="389.6" cy="302.5" rx="1.1" ry="0.8" transform="rotate(269 389.6 302.5)" fill="#7860c8"/>
<ellipse cx="391.0" cy="303.5" rx="1.1" ry="0.8" transform="rotate(340 391.0 303.5)" fill="#c8d070"/>
<ellipse cx="390.3" cy="303.7" rx="0.6" ry="0.3" transform="rotate(336 390.3 303.7)" fill="#78c070"/>
<ellipse cx="389.5" cy="304.8" rx="0.6" ry="0.3" transform="rotate(456 389.5 304.8)" fill="#6878d8"/>
<ellipse cx="389.0" cy="303.5" rx="0.6" ry="0.3" transform="rotate(576 389.0 303.5)" fill="#e0a0c0"/>
<circle cx="389.6" cy="304.0" r="0.6" fill="#d8d8d8"/>
<ellipse cx="433.8" cy="302.9" rx="2.0" ry="1.4" transform="rotate(203 433.8 302.9)" fill="#d06080"/>
<ellipse cx="437.1" cy="301.7" rx="1.8" ry="1.3" transform="rotate(290 437.1 301.7)" fill="#a0a868"/>
<ellipse cx="438.6" cy="303.9" rx="1.7" ry="1.2" transform="rotate(356 438.6 303.9)" fill="#58b8b0"/>
<ellipse cx="437.5" cy="306.0" rx="1.7" ry="1.2" transform="rotate(420 437.5 306.0)" fill="#7860c8"/>
<ellipse cx="434.5" cy="305.5" rx="1.7" ry="1.2" transform="rotate(501 434.5 305.5)" fill="#c8d070"/>
<ellipse cx="437.5" cy="303.8" rx="0.9" ry="0.5" transform="rotate(350 437.5 303.8)" fill="#78c070"/>
<ellipse cx="435.9" cy="305.1" rx="0.9" ry="0.5" transform="rotate(470 435.9 305.1)" fill="#6878d8"/>
<ellipse cx="435.5" cy="303.1" rx="0.9" ry="0.5" transform="rotate(590 435.5 303.1)" fill="#e0a0c0"/>
<circle cx="436.3" cy="304.0" r="0.6" fill="#d8d8d8"/>
<ellipse cx="486.3" cy="306.8" rx="2.4" ry="1.7" transform="rotate(56 486.3 306.8)" fill="#d06080"/>
<ellipse cx="482.7" cy="307.2" rx="2.7" ry="1.9" transform="rotate(118 482.7 307.2)" fill="#a0a868"/>
<ellipse cx="480.8" cy="304.6" rx="2.7" ry="1.9" transform="rotate(171 480.8 304.6)" fill="#58b8b0"/>
<ellipse cx="482.5" cy="301.4" rx="2.3" ry="1.7" transform="rotate(235 482.5 301.4)" fill="#7860c8"/>
<ellipse cx="485.9" cy="300.6" rx="2.7" ry="1.9" transform="rotate(294 485.9 300.6)" fill="#c8d070"/>
<ellipse cx="488.2" cy="303.6" rx="2.8" ry="2.0" transform="rotate(354 488.2 303.6)" fill="#78c070"/>
<ellipse cx="484.2" cy="302.3" rx="1.3" ry="0.7" transform="rotate(265 484.2 302.3)" fill="#6878d8"/>
<ellipse cx="485.9" cy="304.7" rx="1.3" ry="0.7" transform="rotate(385 485.9 304.7)" fill="#e0a0c0"/>
<ellipse cx="483.0" cy="305.0" rx="1.3" ry="0.7" transform="rotate(505 483.0 305.0)" fill="#c8a068"/>
<circle cx="484.4" cy="304.0" r="0.6" fill="#d8d8d8"/>
<line x1="389.6" y1="352.0" x2="396.0" y2="351.0" stroke="#d06080" stroke-width="0.6"/>
<ellipse cx="396.0" cy="351.0" rx="2.9" ry="1.7" transform="rotate(352 396.0 351.0)" fill="#d06080"/>
<line x1="389.6" y1="352.0" x2="393.5" y2="356.4" stroke="#a0a868" stroke-width="0.6"/>
<ellipse cx="393.5" cy="356.4" rx="2.6" ry="1.6" transform="rotate(409 393.5 356.4)" fill="#a0a868"/>
<line x1="389.6" y1="352.0" x2="389.9" y2="358.4" stroke="#58b8b0" stroke-width="0.6"/>
<ellipse cx="389.9" cy="358.4" rx="2.9" ry="1.7" transform="rotate(447 389.9 358.4)" fill="#58b8b0"/>
<line x1="389.6" y1="352.0" x2="385.0" y2="356.0" stroke="#7860c8" stroke-width="0.6"/>
<ellipse cx="385.0" cy="356.0" rx="2.7" ry="1.6" transform="rotate(499 385.0 356.0)" fill="#7860c8"/>
<line x1="389.6" y1="352.0" x2="383.6" y2="349.1" stroke="#c8d070" stroke-width="0.6"/>
<ellipse cx="383.6" cy="349.1" rx="3.0" ry="1.8" transform="rotate(566 383.6 349.1)" fill="#c8d070"/>
<line x1="389.6" y1="352.0" x2="386.9" y2="347.0" stroke="#78c070" stroke-width="0.6"/>
<ellipse cx="386.9" cy="347.0" rx="2.6" ry="1.5" transform="rotate(602 386.9 347.0)" fill="#78c070"/>
<line x1="389.6" y1="352.0" x2="392.5" y2="346.0" stroke="#6878d8" stroke-width="0.6"/>
<ellipse cx="392.5" cy="346.0" rx="3.0" ry="1.8" transform="rotate(655 392.5 346.0)" fill="#6878d8"/>
<ellipse cx="392.0" cy="352.4" rx="1.9" ry="1.0" transform="rotate(9 392.0 352.4)" fill="#e0a0c0"/>
<ellipse cx="388.0" cy="353.9" rx="1.9" ry="1.0" transform="rotate(129 388.0 353.9)" fill="#c8a068"/>
<ellipse cx="388.7" cy="349.7" rx="1.9" ry="1.0" transform="rotate(249 388.7 349.7)" fill="#90c8a0"/>
<circle cx="389.6" cy="352.0" r="0.9" fill="#d8d8d8"/>
<line x1="436.3" y1="352.0" x2="443.1" y2="351.2" stroke="#d06080" stroke-width="0.6"/>
<ellipse cx="443.1" cy="351.2" rx="3.1" ry="1.8" transform="rotate(353 443.1 351.2)" fill="#d06080"/>
<line x1="436.3" y1="352.0" x2="441.7" y2="355.3" stroke="#a0a868" stroke-width="0.6"/>
<ellipse cx="441.7" cy="355.3" rx="2.8" ry="1.7" transform="rotate(392 441.7 355.3)" fill="#a0a868"/>
<line x1="436.3" y1="352.0" x2="436.0" y2="359.0" stroke="#58b8b0" stroke-width="0.6"/>
<ellipse cx="436.0" cy="359.0" rx="3.1" ry="1.9" transform="rotate(453 436.0 359.0)" fill="#58b8b0"/>
<line x1="436.3" y1="352.0" x2="432.4" y2="356.7" stroke="#7860c8" stroke-width="0.6"/>
<ellipse cx="432.4" cy="356.7" rx="2.7" ry="1.6" transform="rotate(490 432.4 356.7)" fill="#7860c8"/>
<line x1="436.3" y1="352.0" x2="430.6" y2="350.0" stroke="#c8d070" stroke-width="0.6"/>
<ellipse cx="430.6" cy="350.0" rx="2.7" ry="1.6" transform="rotate(559 430.6 350.0)" fill="#c8d070"/>
<line x1="436.3" y1="352.0" x2="433.7" y2="346.2" stroke="#78c070" stroke-width="0.6"/>
<ellipse cx="433.7" cy="346.2" rx="2.8" ry="1.7" transform="rotate(606 433.7 346.2)" fill="#78c070"/>
<line x1="436.3" y1="352.0" x2="439.5" y2="345.7" stroke="#6878d8" stroke-width="0.6"/>
<ellipse cx="439.5" cy="345.7" rx="3.2" ry="1.9" transform="rotate(657 439.5 345.7)" fill="#6878d8"/>
<ellipse cx="434.0" cy="350.7" rx="2.0" ry="1.1" transform="rotate(209 434.0 350.7)" fill="#e0a0c0"/>
<ellipse cx="438.5" cy="350.7" rx="2.0" ry="1.1" transform="rotate(329 438.5 350.7)" fill="#c8a068"/>
<ellipse cx="436.3" cy="354.6" rx="2.0" ry="1.1" transform="rotate(449 436.3 354.6)" fill="#90c8a0"/>
<circle cx="436.3" cy="352.0" r="0.9" fill="#d8d8d8"/>
<line x1="484.4" y1="352.0" x2="490.3" y2="345.7" stroke="#d06080" stroke-width="0.8"/>
<ellipse cx="490.3" cy="345.7" rx="3.9" ry="2.3" transform="rotate(313 490.3 345.7)" fill="#d06080"/>
<line x1="484.4" y1="352.0" x2="492.1" y2="353.4" stroke="#a0a868" stroke-width="0.8"/>
<ellipse cx="492.1" cy="353.4" rx="3.5" ry="2.1" transform="rotate(370 492.1 353.4)" fill="#a0a868"/>
<line x1="484.4" y1="352.0" x2="489.3" y2="358.2" stroke="#58b8b0" stroke-width="0.8"/>
<ellipse cx="489.3" cy="358.2" rx="3.6" ry="2.1" transform="rotate(411 489.3 358.2)" fill="#58b8b0"/>
<line x1="484.4" y1="352.0" x2="485.2" y2="359.9" stroke="#7860c8" stroke-width="0.8"/>
<ellipse cx="485.2" cy="359.9" rx="3.6" ry="2.1" transform="rotate(444 485.2 359.9)" fill="#7860c8"/>
<line x1="484.4" y1="352.0" x2="478.5" y2="356.8" stroke="#c8d070" stroke-width="0.8"/>
<ellipse cx="478.5" cy="356.8" rx="3.4" ry="2.0" transform="rotate(501 478.5 356.8)" fill="#c8d070"/>
<line x1="484.4" y1="352.0" x2="476.5" y2="351.4" stroke="#78c070" stroke-width="0.8"/>
<ellipse cx="476.5" cy="351.4" rx="3.6" ry="2.1" transform="rotate(544 476.5 351.4)" fill="#78c070"/>
<line x1="484.4" y1="352.0" x2="478.2" y2="346.9" stroke="#6878d8" stroke-width="0.8"/>
<ellipse cx="478.2" cy="346.9" rx="3.6" ry="2.2" transform="rotate(579 478.2 346.9)" fill="#6878d8"/>
<line x1="484.4" y1="352.0" x2="484.2" y2="343.9" stroke="#e0a0c0" stroke-width="0.8"/>
<ellipse cx="484.2" cy="343.9" rx="3.7" ry="2.2" transform="rotate(629 484.2 343.9)" fill="#e0a0c0"/>
<ellipse cx="486.8" cy="349.8" rx="2.5" ry="1.4" transform="rotate(317 486.8 349.8)" fill="#c8a068"/>
<ellipse cx="486.6" cy="354.4" rx="2.5" ry="1.4" transform="rotate(407 486.6 354.4)" fill="#90c8a0"/>
<ellipse cx="482.0" cy="354.2" rx="2.5" ry="1.4" transform="rotate(497 482.0 354.2)" fill="#8070d0"/>
<ellipse cx="482.2" cy="349.6" rx="2.5" ry="1.4" transform="rotate(587 482.2 349.6)" fill="#b0c890"/>
<circle cx="484.4" cy="352.0" r="1.1" fill="#d8d8d8"/>
<line x1="389.6" y1="399.5" x2="388.6" y2="390.1" stroke="#d06080" stroke-width="1.0"/>
<ellipse cx="388.6" cy="390.1" rx="4.2" ry="2.5" transform="rotate(264 388.6 390.1)" fill="#d06080"/>
<line x1="389.6" y1="399.5" x2="396.0" y2="390.3" stroke="#a0a868" stroke-width="1.0"/>
<ellipse cx="396.0" cy="390.3" rx="5.0" ry="3.0" transform="rotate(305 396.0 390.3)" fill="#a0a868"/>
<line x1="389.6" y1="399.5" x2="399.0" y2="393.4" stroke="#58b8b0" stroke-width="1.0"/>
<ellipse cx="399.0" cy="393.4" rx="5.0" ry="3.0" transform="rotate(327 399.0 393.4)" fill="#58b8b0"/>
<line x1="389.6" y1="399.5" x2="398.7" y2="403.2" stroke="#7860c8" stroke-width="1.0"/>
<ellipse cx="398.7" cy="403.2" rx="4.4" ry="2.6" transform="rotate(382 398.7 403.2)" fill="#7860c8"/>
<line x1="389.6" y1="399.5" x2="393.9" y2="408.8" stroke="#c8d070" stroke-width="1.0"/>
<ellipse cx="393.9" cy="408.8" rx="4.6" ry="2.7" transform="rotate(425 393.9 408.8)" fill="#c8d070"/>
<line x1="389.6" y1="399.5" x2="388.7" y2="410.3" stroke="#78c070" stroke-width="1.0"/>
<ellipse cx="388.7" cy="410.3" rx="4.9" ry="2.9" transform="rotate(455 388.7 410.3)" fill="#78c070"/>
<line x1="389.6" y1="399.5" x2="381.2" y2="406.6" stroke="#6878d8" stroke-width="1.0"/>
<ellipse cx="381.2" cy="406.6" rx="5.0" ry="3.0" transform="rotate(500 381.2 406.6)" fill="#6878d8"/>
<line x1="389.6" y1="399.5" x2="379.3" y2="401.1" stroke="#e0a0c0" stroke-width="1.0"/>
<ellipse cx="379.3" cy="401.1" rx="4.7" ry="2.8" transform="rotate(531 379.3 401.1)" fill="#e0a0c0"/>
<line x1="389.6" y1="399.5" x2="380.8" y2="394.7" stroke="#c8a068" stroke-width="1.0"/>
<ellipse cx="380.8" cy="394.7" rx="4.5" ry="2.7" transform="rotate(569 380.8 394.7)" fill="#c8a068"/>
<ellipse cx="385.4" cy="399.7" rx="3.2" ry="1.8" transform="rotate(177 385.4 399.7)" fill="#90c8a0"/>
<ellipse cx="389.4" cy="395.3" rx="3.2" ry="1.8" transform="rotate(267 389.4 395.3)" fill="#8070d0"/>
<ellipse cx="393.8" cy="399.3" rx="3.2" ry="1.8" transform="rotate(357 393.8 399.3)" fill="#b0c890"/>
<ellipse cx="389.8" cy="403.7" rx="3.2" ry="1.8" transform="rotate(447 389.8 403.7)" fill="#e08898"/>
<circle cx="389.6" cy="399.5" r="1.4" fill="#d8d8d8"/>
<line x1="436.3" y1="399.5" x2="436.2" y2="412.1" stroke="#d06080" stroke-width="1.1"/>
<ellipse cx="436.2" cy="412.1" rx="5.7" ry="3.4" transform="rotate(90 436.2 412.1)" fill="#d06080"/>
<line x1="436.3" y1="399.5" x2="429.3" y2="408.5" stroke="#a0a868" stroke-width="1.1"/>
<ellipse cx="429.3" cy="408.5" rx="5.1" ry="3.1" transform="rotate(128 429.3 408.5)" fill="#a0a868"/>
<line x1="436.3" y1="399.5" x2="426.6" y2="403.7" stroke="#58b8b0" stroke-width="1.1"/>
<ellipse cx="426.6" cy="403.7" rx="4.8" ry="2.8" transform="rotate(157 426.6 403.7)" fill="#58b8b0"/>
<line x1="436.3" y1="399.5" x2="425.5" y2="394.1" stroke="#7860c8" stroke-width="1.1"/>
<ellipse cx="425.5" cy="394.1" rx="5.4" ry="3.2" transform="rotate(207 425.5 394.1)" fill="#7860c8"/>
<line x1="436.3" y1="399.5" x2="428.4" y2="390.8" stroke="#c8d070" stroke-width="1.1"/>
<ellipse cx="428.4" cy="390.8" rx="5.3" ry="3.1" transform="rotate(228 428.4 390.8)" fill="#c8d070"/>
<line x1="436.3" y1="399.5" x2="436.9" y2="387.1" stroke="#78c070" stroke-width="1.1"/>
<ellipse cx="436.9" cy="387.1" rx="5.6" ry="3.3" transform="rotate(273 436.9 387.1)" fill="#78c070"/>
<line x1="436.3" y1="399.5" x2="441.9" y2="390.0" stroke="#6878d8" stroke-width="1.1"/>
<ellipse cx="441.9" cy="390.0" rx="5.0" ry="3.0" transform="rotate(300 441.9 390.0)" fill="#6878d8"/>
<line x1="436.3" y1="399.5" x2="446.8" y2="394.5" stroke="#e0a0c0" stroke-width="1.1"/>
<ellipse cx="446.8" cy="394.5" rx="5.3" ry="3.1" transform="rotate(334 446.8 394.5)" fill="#e0a0c0"/>
<line x1="436.3" y1="399.5" x2="447.2" y2="404.6" stroke="#c8a068" stroke-width="1.1"/>
<ellipse cx="447.2" cy="404.6" rx="5.4" ry="3.2" transform="rotate(385 447.2 404.6)" fill="#c8a068"/>
<line x1="436.3" y1="399.5" x2="444.1" y2="407.5" stroke="#90c8a0" stroke-width="1.1"/>
<ellipse cx="444.1" cy="407.5" rx="5.0" ry="3.0" transform="rotate(406 444.1 407.5)" fill="#90c8a0"/>
<ellipse cx="440.3" cy="401.6" rx="3.5" ry="1.9" transform="rotate(28 440.3 401.6)" fill="#8070d0"/>
<ellipse cx="435.5" cy="404.0" rx="3.5" ry="1.9" transform="rotate(100 435.5 404.0)" fill="#b0c890"/>
<ellipse cx="431.8" cy="400.2" rx="3.5" ry="1.9" transform="rotate(172 431.8 400.2)" fill="#e08898"/>
<ellipse cx="434.3" cy="395.4" rx="3.5" ry="1.9" transform="rotate(244 434.3 395.4)" fill="#a0a0e0"/>
<ellipse cx="439.5" cy="396.3" rx="3.5" ry="1.9" transform="rotate(316 439.5 396.3)" fill="#d06080"/>
<circle cx="436.3" cy="399.5" r="1.6" fill="#d8d8d8"/>
<line x1="484.4" y1="399.5" x2="492.7" y2="410.6" stroke="#d06080" stroke-width="1.2"/>
<ellipse cx="492.7" cy="410.6" rx="6.2" ry="3.7" transform="rotate(53 492.7 410.6)" fill="#d06080"/>
<line x1="484.4" y1="399.5" x2="486.4" y2="411.5" stroke="#a0a868" stroke-width="1.2"/>
<ellipse cx="486.4" cy="411.5" rx="5.5" ry="3.3" transform="rotate(81 486.4 411.5)" fill="#a0a868"/>
<line x1="484.4" y1="399.5" x2="479.9" y2="410.2" stroke="#58b8b0" stroke-width="1.2"/>
<ellipse cx="479.9" cy="410.2" rx="5.2" ry="3.1" transform="rotate(113 479.9 410.2)" fill="#58b8b0"/>
<line x1="484.4" y1="399.5" x2="474.1" y2="405.6" stroke="#7860c8" stroke-width="1.2"/>
<ellipse cx="474.1" cy="405.6" rx="5.4" ry="3.2" transform="rotate(149 474.1 405.6)" fill="#7860c8"/>
<line x1="484.4" y1="399.5" x2="473.0" y2="395.8" stroke="#c8d070" stroke-width="1.2"/>
<ellipse cx="473.0" cy="395.8" rx="5.4" ry="3.2" transform="rotate(198 473.0 395.8)" fill="#c8d070"/>
<line x1="484.4" y1="399.5" x2="473.9" y2="390.4" stroke="#78c070" stroke-width="1.2"/>
<ellipse cx="473.9" cy="390.4" rx="6.3" ry="3.7" transform="rotate(221 473.9 390.4)" fill="#78c070"/>
<line x1="484.4" y1="399.5" x2="484.7" y2="387.8" stroke="#6878d8" stroke-width="1.2"/>
<ellipse cx="484.7" cy="387.8" rx="5.3" ry="3.1" transform="rotate(271 484.7 387.8)" fill="#6878d8"/>
<line x1="484.4" y1="399.5" x2="490.5" y2="386.8" stroke="#e0a0c0" stroke-width="1.2"/>
<ellipse cx="490.5" cy="386.8" rx="6.3" ry="3.8" transform="rotate(295 490.5 386.8)" fill="#e0a0c0"/>
<line x1="484.4" y1="399.5" x2="496.1" y2="393.5" stroke="#c8a068" stroke-width="1.2"/>
<ellipse cx="496.1" cy="393.5" rx="5.9" ry="3.5" transform="rotate(333 496.1 393.5)" fill="#c8a068"/>
<line x1="484.4" y1="399.5" x2="497.1" y2="402.9" stroke="#90c8a0" stroke-width="1.2"/>
<ellipse cx="497.1" cy="402.9" rx="5.9" ry="3.5" transform="rotate(375 497.1 402.9)" fill="#90c8a0"/>
<ellipse cx="489.2" cy="401.2" rx="3.9" ry="2.1" transform="rotate(20 489.2 401.2)" fill="#8070d0"/>
<ellipse cx="484.2" cy="404.6" rx="3.9" ry="2.1" transform="rotate(92 484.2 404.6)" fill="#b0c890"/>
<ellipse cx="479.5" cy="400.9" rx="3.9" ry="2.1" transform="rotate(164 479.5 400.9)" fill="#e08898"/>
<ellipse cx="481.6" cy="395.3" rx="3.9" ry="2.1" transform="rotate(236 481.6 395.3)" fill="#a0a0e0"/>
<ellipse cx="487.5" cy="395.5" rx="3.9" ry="2.1" transform="rotate(308 487.5 395.5)" fill="#d06080"/>
<circle cx="484.4" cy="399.5" r="1.8" fill="#d8d8d8"/>
<rect x="191" y="289" width="36.7" height="146" fill="#000"/>
<rect x="191" y="289" width="36.7" height="146" fill="none" stroke="#3a0000" stroke-width="0.6"/>
<line x1="191" y1="325.7" x2="227.7" y2="325.7" stroke="#5a0000" stroke-width="0.8"/>
<line x1="191" y1="362.3" x2="227.7" y2="362.3" stroke="#5a0000" stroke-width="0.8"/>
<circle cx="207" cy="311.4" r="1.7" fill="#fff"/>
<circle cx="208" cy="342.7" r="0.9" fill="#ddd"/>
<circle cx="211.4" cy="382.5" r="1.0" fill="#eee"/>
<circle cx="214" cy="415.7" r="1.6" fill="#fff"/>
<rect x="298.2" y="289" width="36.8" height="146" fill="#000"/>
<rect x="298.2" y="289" width="36.8" height="146" fill="none" stroke="#3a0000" stroke-width="0.6"/>
<line x1="298.2" y1="325.6" x2="335" y2="325.6" stroke="#5a0000" stroke-width="0.9"/>
<line x1="298.2" y1="361.8" x2="335" y2="361.8" stroke="#5a0000" stroke-width="0.9"/>
<line x1="298.2" y1="398.6" x2="335" y2="398.6" stroke="#5a0000" stroke-width="0.9"/>
<circle cx="316.4" cy="307.7" r="16.6" fill="none" stroke="#3fdc3f" stroke-width="2.4"/>
<circle cx="313.9" cy="311.5" r="1.7" fill="#d8e8e0"/>
<polygon points="323.9,356.7 329.6,351.0 309.7,331.1 304.0,336.8" fill="#ff0000"/>
<polygon points="329.6,336.8 323.9,331.1 304.0,351.0 309.7,356.7" fill="#ff0000"/>
<polygon points="323.9,392.8 329.6,387.1 309.7,367.2 304.0,372.9" fill="#ff0000"/>
<polygon points="329.6,372.9 323.9,367.2 304.0,387.1 309.7,392.8" fill="#ff0000"/>
<polygon points="323.9,430.1 329.6,424.4 309.7,404.5 304.0,410.2" fill="#ff0000"/>
<polygon points="329.6,410.2 323.9,404.5 304.0,424.4 309.7,430.1" fill="#ff0000"/>
<g stroke="#5ccf4c" stroke-width="1.4" fill="none">
<line x1="228.2" y1="306.4" x2="291" y2="306.6"/>
<line x1="228.2" y1="306.4" x2="297.3" y2="345.0"/>
<line x1="228.2" y1="306.4" x2="297.3" y2="381.0"/>
<line x1="228.2" y1="306.4" x2="297.3" y2="419.5"/>
</g>
<text class="tx" x="276.6" y="309.4" font-size="8.1" fill="#222">IoU</text>
<text class="tx" x="276.6" y="349.6" font-size="8.1" fill="#222">IoU</text>
<text class="tx" x="276.6" y="383.0" font-size="8.1" fill="#222">IoU</text>
<text class="tx" x="276.6" y="416.4" font-size="8.1" fill="#222">IoU</text>
<path d="M294.2 300.2 L297.6 307 L295.4 307 L295.4 313.7 L293 313.7 L293 307 L290.8 307 Z" fill="#3fdc3f" stroke="#2fbf2f" stroke-width="0.5"/>
<path d="M292.5 340.1 L294.9 340.1 L294.9 345.0 L297.1 345.0 L293.7 353.9 L290.3 345.0 L292.5 345.0 Z" fill="#f8cecc" stroke="#c8747a" stroke-width="0.6"/>
<path d="M292.5 373.9 L294.9 373.9 L294.9 378.8 L297.1 378.8 L293.7 387.7 L290.3 378.8 L292.5 378.8 Z" fill="#f8cecc" stroke="#c8747a" stroke-width="0.6"/>
<path d="M292.5 407.0 L294.9 407.0 L294.9 411.9 L297.1 411.9 L293.7 420.8 L290.3 411.9 L292.5 411.9 Z" fill="#f8cecc" stroke="#c8747a" stroke-width="0.6"/>
<text class="t2" x="530.5" y="12" font-size="5" fill="#222">Light</text>
<text class="t2" x="530.5" y="17.6" font-size="4.7" fill="#222">treatment</text>
<text class="t2" x="530.5" y="25.6" font-size="5" fill="#222">DAS</text>
<rect x="582.90" y="4.2" width="1.88" height="16.3" fill="#a0a0a0"/>
<rect x="584.73" y="4.2" width="1.88" height="16.3" fill="#8c8c8c"/>
<rect x="586.57" y="4.2" width="1.88" height="16.3" fill="#909090"/>
<rect x="590.00" y="4.2" width="1.78" height="16.3" fill="#a0a0a0"/>
<rect x="591.73" y="4.2" width="1.78" height="16.3" fill="#8c8c8c"/>
<rect x="593.47" y="4.2" width="1.78" height="16.3" fill="#909090"/>
<rect x="597.00" y="4.2" width="1.75" height="16.3" fill="#a0a0a0"/>
<rect x="598.70" y="4.2" width="1.75" height="16.3" fill="#8c8c8c"/>
<rect x="600.40" y="4.2" width="1.75" height="16.3" fill="#909090"/>
<rect x="604.00" y="4.2" width="1.68" height="16.3" fill="#a0a0a0"/>
<rect x="605.63" y="4.2" width="1.68" height="16.3" fill="#8c8c8c"/>
<rect x="607.27" y="4.2" width="1.68" height="16.3" fill="#909090"/>
<rect x="610.50" y="4.2" width="1.88" height="16.3" fill="#e4e4e4"/>
<rect x="612.33" y="4.2" width="1.88" height="16.3" fill="#d0d0d0"/>
<rect x="614.17" y="4.2" width="1.88" height="16.3" fill="#ececec"/>
<rect x="645.70" y="4.2" width="2.08" height="16.3" fill="#e4e4e4"/>
<rect x="647.73" y="4.2" width="2.08" height="16.3" fill="#d0d0d0"/>
<rect x="649.77" y="4.2" width="2.08" height="16.3" fill="#ececec"/>
<rect x="652.80" y="4.2" width="2.12" height="16.3" fill="#d8d8d8"/>
<rect x="654.87" y="4.2" width="2.12" height="16.3" fill="#bcbcbc"/>
<rect x="656.93" y="4.2" width="2.12" height="16.3" fill="#e4e4e4"/>
<rect x="660.00" y="4.2" width="2.08" height="16.3" fill="#d8d8d8"/>
<rect x="662.03" y="4.2" width="2.08" height="16.3" fill="#bcbcbc"/>
<rect x="664.07" y="4.2" width="2.08" height="16.3" fill="#e4e4e4"/>
<rect x="667.20" y="4.2" width="1.75" height="16.3" fill="#d8d8d8"/>
<rect x="668.90" y="4.2" width="1.75" height="16.3" fill="#bcbcbc"/>
<rect x="670.60" y="4.2" width="1.75" height="16.3" fill="#e4e4e4"/>
<rect x="674.30" y="4.2" width="1.75" height="16.3" fill="#a0a0a0"/>
<rect x="676.00" y="4.2" width="1.75" height="16.3" fill="#8c8c8c"/>
<rect x="677.70" y="4.2" width="1.75" height="16.3" fill="#909090"/>
<line x1="554.7" y1="15.7" x2="582.5" y2="15.7" stroke="#888" stroke-width="0.45" stroke-dasharray="3 0.5"/>
<line x1="616.5" y1="15.7" x2="645.5" y2="15.7" stroke="#888" stroke-width="0.45" stroke-dasharray="3 0.5"/>
<text class="t2" x="557.7" y="25.2" font-size="3.9" text-anchor="middle" fill="#222">8</text>
<text class="t2" x="564.7" y="25.2" font-size="3.9" text-anchor="middle" fill="#222">9</text>
<text class="t2" x="571.7" y="25.2" font-size="3.9" text-anchor="middle" fill="#222">10</text>
<text class="t2" x="578.7" y="25.2" font-size="3.9" text-anchor="middle" fill="#222">11</text>
<text class="t2" x="585.7" y="25.2" font-size="3.9" text-anchor="middle" fill="#222">12</text>
<text class="t2" x="592.6" y="25.2" font-size="3.9" text-anchor="middle" fill="#222">13</text>
<text class="t2" x="599.6" y="25.2" font-size="3.9" text-anchor="middle" fill="#222">14</text>
<text class="t2" x="606.6" y="25.2" font-size="3.9" text-anchor="middle" fill="#222">15</text>
<text class="t2" x="613.6" y="25.2" font-size="3.9" text-anchor="middle" fill="#222">16</text>
<text class="t2" x="620.6" y="25.2" font-size="3.9" text-anchor="middle" fill="#222">17</text>
<text class="t2" x="627.6" y="25.2" font-size="3.9" text-anchor="middle" fill="#222">18</text>
<text class="t2" x="634.6" y="25.2" font-size="3.9" text-anchor="middle" fill="#222">19</text>
<text class="t2" x="641.6" y="25.2" font-size="3.9" text-anchor="middle" fill="#222">20</text>
<text class="t2" x="648.6" y="25.2" font-size="3.9" text-anchor="middle" fill="#222">21</text>
<text class="t2" x="655.5" y="25.2" font-size="3.9" text-anchor="middle" fill="#222">22</text>
<text class="t2" x="662.5" y="25.2" font-size="3.9" text-anchor="middle" fill="#222">23</text>
<text class="t2" x="669.5" y="25.2" font-size="3.9" text-anchor="middle" fill="#222">24</text>
<text class="t2" x="676.5" y="25.2" font-size="3.9" text-anchor="middle" fill="#222">25</text>
<text class="t2" x="683.5" y="25.2" font-size="3.9" text-anchor="middle" fill="#222">26</text>
<line x1="554.0" y1="22.2" x2="686.0" y2="22.2" stroke="#999" stroke-width="0.3"/>
<rect x="739.90" y="4.2" width="1.88" height="16.3" fill="#a0a0a0"/>
<rect x="741.73" y="4.2" width="1.88" height="16.3" fill="#8c8c8c"/>
<rect x="743.57" y="4.2" width="1.88" height="16.3" fill="#909090"/>
<rect x="747.00" y="4.2" width="1.78" height="16.3" fill="#a0a0a0"/>
<rect x="748.73" y="4.2" width="1.78" height="16.3" fill="#8c8c8c"/>
<rect x="750.47" y="4.2" width="1.78" height="16.3" fill="#909090"/>
<rect x="754.00" y="4.2" width="1.75" height="16.3" fill="#a0a0a0"/>
<rect x="755.70" y="4.2" width="1.75" height="16.3" fill="#8c8c8c"/>
<rect x="757.40" y="4.2" width="1.75" height="16.3" fill="#909090"/>
<rect x="761.00" y="4.2" width="1.68" height="16.3" fill="#a0a0a0"/>
<rect x="762.63" y="4.2" width="1.68" height="16.3" fill="#8c8c8c"/>
<rect x="764.27" y="4.2" width="1.68" height="16.3" fill="#909090"/>
<rect x="767.50" y="4.2" width="1.88" height="16.3" fill="#e4e4e4"/>
<rect x="769.33" y="4.2" width="1.88" height="16.3" fill="#d0d0d0"/>
<rect x="771.17" y="4.2" width="1.88" height="16.3" fill="#ececec"/>
<rect x="802.70" y="4.2" width="2.08" height="16.3" fill="#e4e4e4"/>
<rect x="804.73" y="4.2" width="2.08" height="16.3" fill="#d0d0d0"/>
<rect x="806.77" y="4.2" width="2.08" height="16.3" fill="#ececec"/>
<rect x="809.80" y="4.2" width="2.12" height="16.3" fill="#d8d8d8"/>
<rect x="811.87" y="4.2" width="2.12" height="16.3" fill="#bcbcbc"/>
<rect x="813.93" y="4.2" width="2.12" height="16.3" fill="#e4e4e4"/>
<rect x="817.00" y="4.2" width="2.08" height="16.3" fill="#d8d8d8"/>
<rect x="819.03" y="4.2" width="2.08" height="16.3" fill="#bcbcbc"/>
<rect x="821.07" y="4.2" width="2.08" height="16.3" fill="#e4e4e4"/>
<rect x="824.20" y="4.2" width="1.75" height="16.3" fill="#d8d8d8"/>
<rect x="825.90" y="4.2" width="1.75" height="16.3" fill="#bcbcbc"/>
<rect x="827.60" y="4.2" width="1.75" height="16.3" fill="#e4e4e4"/>
<rect x="831.30" y="4.2" width="1.75" height="16.3" fill="#a0a0a0"/>
<rect x="833.00" y="4.2" width="1.75" height="16.3" fill="#8c8c8c"/>
<rect x="834.70" y="4.2" width="1.75" height="16.3" fill="#909090"/>
<line x1="711.7" y1="15.7" x2="739.5" y2="15.7" stroke="#888" stroke-width="0.45" stroke-dasharray="3 0.5"/>
<line x1="773.5" y1="15.7" x2="802.5" y2="15.7" stroke="#888" stroke-width="0.45" stroke-dasharray="3 0.5"/>
<text class="t2" x="714.7" y="25.2" font-size="3.9" text-anchor="middle" fill="#222">8</text>
<text class="t2" x="721.7" y="25.2" font-size="3.9" text-anchor="middle" fill="#222">9</text>
<text class="t2" x="728.7" y="25.2" font-size="3.9" text-anchor="middle" fill="#222">10</text>
<text class="t2" x="735.7" y="25.2" font-size="3.9" text-anchor="middle" fill="#222">11</text>
<text class="t2" x="742.7" y="25.2" font-size="3.9" text-anchor="middle" fill="#222">12</text>
<text class="t2" x="749.6" y="25.2" font-size="3.9" text-anchor="middle" fill="#222">13</text>
<text class="t2" x="756.6" y="25.2" font-size="3.9" text-anchor="middle" fill="#222">14</text>
<text class="t2" x="763.6" y="25.2" font-size="3.9" text-anchor="middle" fill="#222">15</text>
<text class="t2" x="770.6" y="25.2" font-size="3.9" text-anchor="middle" fill="#222">16</text>
<text class="t2" x="777.6" y="25.2" font-size="3.9" text-anchor="middle" fill="#222">17</text>
<text class="t2" x="784.6" y="25.2" font-size="3.9" text-anchor="middle" fill="#222">18</text>
<text class="t2" x="791.6" y="25.2" font-size="3.9" text-anchor="middle" fill="#222">19</text>
<text class="t2" x="798.6" y="25.2" font-size="3.9" text-anchor="middle" fill="#222">20</text>
<text class="t2" x="805.6" y="25.2" font-size="3.9" text-anchor="middle" fill="#222">21</text>
<text class="t2" x="812.5" y="25.2" font-size="3.9" text-anchor="middle" fill="#222">22</text>
<text class="t2" x="819.5" y="25.2" font-size="3.9" text-anchor="middle" fill="#222">23</text>
<text class="t2" x="826.5" y="25.2" font-size="3.9" text-anchor="middle" fill="#222">24</text>
<text class="t2" x="833.5" y="25.2" font-size="3.9" text-anchor="middle" fill="#222">25</text>
<text class="t2" x="840.5" y="25.2" font-size="3.9" text-anchor="middle" fill="#222">26</text>
<line x1="711.0" y1="22.2" x2="843.0" y2="22.2" stroke="#999" stroke-width="0.3"/>
<g>
<clipPath id="clipA"><rect x="550" y="26" width="141.5" height="140.3"/></clipPath>
<g clip-path="url(#clipA)">
<polygon points="556.1,130.5 563.3,118.2 570.4,102.8 577.6,85.9 584.7,69.0 591.8,56.7 599.0,44.4 606.1,39.8 613.2,38.3 620.4,36.8 627.5,55.2 634.6,36.8 641.8,33.7 648.9,38.3 656.1,40.8 663.2,42.0 670.3,41.4 677.5,40.8 684.6,41.4 684.6,61.3 677.5,52.1 670.3,53.0 663.2,52.1 656.1,53.7 648.9,50.6 641.8,55.2 634.6,56.7 627.5,66.0 620.4,62.3 613.2,64.4 606.1,66.0 599.0,72.1 591.8,87.5 584.7,99.8 577.6,115.1 570.4,130.5 563.3,145.9 556.1,155.1" fill="#6cc06c" fill-opacity="0.35" stroke="none"/>
<polygon points="556.1,62.9 563.3,62.3 570.4,59.8 577.6,56.7 584.7,61.3 591.8,72.1 599.0,81.3 606.1,84.4 613.2,93.6 620.4,87.5 627.5,79.8 634.6,75.2 641.8,75.2 648.9,66.0 656.1,55.2 663.2,49.0 670.3,49.0 677.5,47.5 684.6,50.6 684.6,69.0 677.5,62.9 670.3,64.4 663.2,66.0 656.1,75.2 648.9,87.5 641.8,110.5 634.6,104.4 627.5,102.8 620.4,130.5 613.2,159.7 606.1,142.8 599.0,124.3 591.8,102.8 584.7,82.9 577.6,85.9 570.4,84.4 563.3,87.5 556.1,82.9" fill="#f5a05a" fill-opacity="0.35" stroke="none"/>
<polygon points="556.1,75.2 563.3,73.6 570.4,67.5 577.6,67.5 584.7,61.3 591.8,72.1 599.0,84.4 606.1,78.2 613.2,81.3 620.4,66.0 627.5,62.9 634.6,72.1 641.8,72.1 648.9,64.4 656.1,47.5 663.2,44.4 670.3,44.4 677.5,42.9 684.6,44.4 684.6,78.2 677.5,75.2 670.3,73.6 663.2,72.1 656.1,75.2 648.9,84.4 641.8,99.8 634.6,96.7 627.5,102.8 620.4,87.5 613.2,101.3 606.1,98.2 599.0,102.8 591.8,92.1 584.7,78.2 577.6,82.9 570.4,82.9 563.3,89.0 556.1,92.1" fill="#6fa8dc" fill-opacity="0.30" stroke="none"/>
<polygon points="556.1,98.2 563.3,95.1 570.4,90.5 577.6,90.5 584.7,88.4 591.8,84.4 599.0,80.4 606.1,76.7 613.2,73.6 620.4,68.1 627.5,66.0 634.6,64.4 641.8,62.3 648.9,59.8 656.1,55.8 663.2,52.1 670.3,50.6 677.5,48.4 684.6,49.0 684.6,58.3 677.5,57.7 670.3,59.8 663.2,61.3 656.1,66.9 648.9,72.1 641.8,75.8 634.6,79.8 627.5,81.3 620.4,85.3 613.2,92.1 606.1,95.1 599.0,97.6 591.8,99.8 584.7,101.9 577.6,105.9 570.4,109.0 563.3,116.7 556.1,122.8" fill="#e87070" fill-opacity="0.30" stroke="none"/>
<polyline points="556.1,82.9 563.3,81.3 570.4,75.2 577.6,74.6 584.7,69.0 591.8,81.3 599.0,93.6 606.1,87.5 613.2,90.5 620.4,75.2 627.5,70.6 634.6,81.3 641.8,80.7 648.9,73.6 656.1,66.0 663.2,59.8 670.3,58.3 677.5,56.7 684.6,58.3" fill="none" stroke="#5a8ab8" stroke-width="0.75" stroke-linejoin="round"/>
<polyline points="556.1,72.1 563.3,76.7 570.4,72.1 577.6,73.6 584.7,71.5 591.8,84.4 599.0,95.1 606.1,98.2 613.2,105.9 620.4,98.2 627.5,90.5 634.6,85.9 641.8,85.9 648.9,75.2 656.1,66.0 663.2,56.7 670.3,56.7 677.5,55.2 684.6,59.8" fill="none" stroke="#e0924a" stroke-width="0.75" stroke-linejoin="round"/>
<polyline points="556.1,142.2 563.3,132.0 570.4,116.7 577.6,101.3 584.7,84.4 591.8,69.0 599.0,58.3 606.1,53.7 613.2,50.6 620.4,50.0 627.5,61.3 634.6,46.9 641.8,45.1 648.9,44.4 656.1,48.1 663.2,47.5 670.3,46.9 677.5,46.0 684.6,52.1" fill="none" stroke="#5ab45a" stroke-width="0.75" stroke-linejoin="round"/>
<polyline points="556.1,110.5 563.3,105.9 570.4,99.8 577.6,98.2 584.7,95.1 591.8,92.1 599.0,89.0 606.1,85.9 613.2,82.9 620.4,76.7 627.5,73.6 634.6,72.1 641.8,69.0 648.9,66.0 656.1,61.3 663.2,56.7 670.3,55.2 677.5,53.0 684.6,53.7" fill="none" stroke="#cc5a58" stroke-width="0.75" stroke-linejoin="round"/>
</g>
<rect x="550" y="26" width="141.5" height="140.3" fill="none" stroke="#cdcdcd" stroke-width="1.1"/>
<text class="t2" x="552.8" y="33.4" font-size="5.6" font-weight="bold" fill="#222">A</text>
<line x1="663.5" y1="145.8" x2="669.0" y2="145.8" stroke="#5a8ab8" stroke-width="1.1" stroke-opacity="0.6"/>
<text class="t2" x="672.0" y="147.2" font-size="4" fill="#222">Leaf 1</text>
<line x1="663.5" y1="150.6" x2="669.0" y2="150.6" stroke="#e0924a" stroke-width="1.1" stroke-opacity="0.6"/>
<text class="t2" x="672.0" y="152.0" font-size="4" fill="#222">Leaf 2</text>
<line x1="663.5" y1="155.4" x2="669.0" y2="155.4" stroke="#5ab45a" stroke-width="1.1" stroke-opacity="0.6"/>
<text class="t2" x="672.0" y="156.8" font-size="4" fill="#222">Leaf 3</text>
<line x1="663.5" y1="160.2" x2="669.0" y2="160.2" stroke="#cc5a58" stroke-width="1.1" stroke-opacity="0.6"/>
<text class="t2" x="672.0" y="161.6" font-size="4" fill="#222">Col-0</text>
<line x1="548.5" y1="48.1" x2="550.0" y2="48.1" stroke="#888" stroke-width="0.5"/>
<text x="547.5" y="49.2" font-size="3.2" text-anchor="end" fill="#555">0.80</text>
<line x1="548.5" y1="71.8" x2="550.0" y2="71.8" stroke="#888" stroke-width="0.5"/>
<text x="547.5" y="72.9" font-size="3.2" text-anchor="end" fill="#555">0.78</text>
<line x1="548.5" y1="95.5" x2="550.0" y2="95.5" stroke="#888" stroke-width="0.5"/>
<text x="547.5" y="96.6" font-size="3.2" text-anchor="end" fill="#555">0.76</text>
<line x1="548.5" y1="119.2" x2="550.0" y2="119.2" stroke="#888" stroke-width="0.5"/>
<text x="547.5" y="120.3" font-size="3.2" text-anchor="end" fill="#555">0.74</text>
<line x1="548.5" y1="142.9" x2="550.0" y2="142.9" stroke="#888" stroke-width="0.5"/>
<text x="547.5" y="144.0" font-size="3.2" text-anchor="end" fill="#555">0.72</text>
<line x1="556.7" y1="166.3" x2="556.7" y2="167.8" stroke="#888" stroke-width="0.5"/>
<text x="556.7" y="171.0" font-size="3.6" text-anchor="middle" fill="#333">0</text>
<line x1="580.4" y1="166.3" x2="580.4" y2="167.8" stroke="#888" stroke-width="0.5"/>
<text x="580.4" y="171.0" font-size="3.6" text-anchor="middle" fill="#333">10</text>
<line x1="604.1" y1="166.3" x2="604.1" y2="167.8" stroke="#888" stroke-width="0.5"/>
<text x="604.1" y="171.0" font-size="3.6" text-anchor="middle" fill="#333">20</text>
<line x1="627.8" y1="166.3" x2="627.8" y2="167.8" stroke="#888" stroke-width="0.5"/>
<text x="627.8" y="171.0" font-size="3.6" text-anchor="middle" fill="#333">30</text>
<line x1="651.5" y1="166.3" x2="651.5" y2="167.8" stroke="#888" stroke-width="0.5"/>
<text x="651.5" y="171.0" font-size="3.6" text-anchor="middle" fill="#333">40</text>
<line x1="675.2" y1="166.3" x2="675.2" y2="167.8" stroke="#888" stroke-width="0.5"/>
<text x="675.2" y="171.0" font-size="3.6" text-anchor="middle" fill="#333">50</text>
<text class="t2" x="536.5" y="89.0" font-size="5" text-anchor="middle" fill="#222" transform="rotate(-90 536.5 89.0)">Fv/Fm</text>
<text class="t2" x="548.5" y="170.8" font-size="4.4" text-anchor="end" fill="#222">Timepoint</text>
</g>
<g>
<clipPath id="clipB"><rect x="706.5" y="26" width="142.0" height="140.3"/></clipPath>
<g clip-path="url(#clipB)">
<polygon points="726.4,78.2 733.6,93.6 740.7,76.7 747.8,72.1 755.0,67.5 762.1,61.3 769.2,55.2 776.4,53.7 783.5,50.6 790.6,47.5 797.8,46.0 804.9,44.4 812.1,41.4 819.2,39.8 826.3,39.8 833.5,36.8 840.6,39.8 840.6,59.8 833.5,55.2 826.3,59.8 819.2,59.8 812.1,66.0 804.9,72.1 797.8,75.2 790.6,78.2 783.5,84.4 776.4,90.5 769.2,87.5 762.1,92.1 755.0,104.4 747.8,118.2 740.7,105.9 733.6,118.2 726.4,99.8" fill="#6cc06c" fill-opacity="0.35" stroke="none"/>
<polygon points="719.3,98.2 726.4,99.8 733.6,104.4 740.7,90.5 747.8,82.9 755.0,75.2 762.1,69.0 769.2,61.3 776.4,53.7 783.5,50.6 790.6,49.0 797.8,44.4 804.9,41.4 812.1,38.3 819.2,35.2 826.3,36.8 833.5,30.6 840.6,32.1 840.6,50.6 833.5,47.5 826.3,53.7 819.2,52.1 812.1,55.2 804.9,58.3 797.8,62.9 790.6,67.5 783.5,69.0 776.4,72.1 769.2,81.3 762.1,89.0 755.0,96.7 747.8,105.9 740.7,115.1 733.6,132.0 726.4,121.3 719.3,118.2" fill="#f5a05a" fill-opacity="0.35" stroke="none"/>
<polygon points="712.1,127.4 719.3,110.5 726.4,101.3 733.6,92.1 740.7,78.2 747.8,69.0 755.0,59.8 762.1,56.7 769.2,53.7 776.4,50.6 783.5,47.5 790.6,39.8 797.8,38.3 804.9,36.8 812.1,35.2 819.2,38.3 826.3,36.8 833.5,36.8 840.6,39.8 840.6,56.7 833.5,52.1 826.3,52.1 819.2,53.7 812.1,52.1 804.9,52.1 797.8,56.7 790.6,56.7 783.5,66.0 776.4,72.1 769.2,78.2 762.1,87.5 755.0,96.7 747.8,102.8 740.7,109.0 733.6,118.2 726.4,127.4 719.3,139.7 712.1,158.1" fill="#6fa8dc" fill-opacity="0.30" stroke="none"/>
<polygon points="712.1,90.5 719.3,88.4 726.4,83.5 733.6,82.9 740.7,82.2 747.8,78.2 755.0,76.7 762.1,75.2 769.2,70.6 776.4,68.1 783.5,63.5 790.6,58.9 797.8,58.0 804.9,56.4 812.1,53.7 819.2,50.6 826.3,47.5 833.5,46.0 840.6,49.0 840.6,58.3 833.5,55.2 826.3,56.7 819.2,59.8 812.1,62.9 804.9,66.3 797.8,67.8 790.6,69.9 783.5,74.6 776.4,79.2 769.2,82.9 762.1,87.5 755.0,89.0 747.8,90.5 740.7,95.8 733.6,98.2 726.4,100.7 719.3,108.1 712.1,112.0" fill="#e87070" fill-opacity="0.30" stroke="none"/>
<polyline points="712.1,142.8 719.3,124.3 726.4,113.6 733.6,105.9 740.7,93.6 747.8,87.5 755.0,81.3 762.1,75.2 769.2,66.0 776.4,59.8 783.5,55.2 790.6,46.0 797.8,46.0 804.9,42.9 812.1,42.9 819.2,46.0 826.3,44.4 833.5,44.4 840.6,49.0" fill="none" stroke="#5a8ab8" stroke-width="0.75" stroke-linejoin="round"/>
<polyline points="719.3,105.9 726.4,107.4 733.6,115.1 740.7,99.8 747.8,92.1 755.0,84.4 762.1,76.7 769.2,69.0 776.4,61.3 783.5,58.3 790.6,56.7 797.8,52.1 804.9,49.0 812.1,46.0 819.2,42.9 826.3,44.4 833.5,38.3 840.6,39.8" fill="none" stroke="#e0924a" stroke-width="0.75" stroke-linejoin="round"/>
<polyline points="726.4,87.5 733.6,105.9 740.7,87.5 747.8,84.4 755.0,79.8 762.1,72.1 769.2,66.0 776.4,64.4 783.5,61.3 790.6,56.7 797.8,55.2 804.9,53.7 812.1,50.6 819.2,47.5 826.3,47.5 833.5,44.4 840.6,49.0" fill="none" stroke="#5ab45a" stroke-width="0.75" stroke-linejoin="round"/>
<polyline points="712.1,101.3 719.3,98.2 726.4,92.1 733.6,90.5 740.7,89.0 747.8,84.4 755.0,82.9 762.1,81.3 769.2,76.7 776.4,73.6 783.5,69.0 790.6,64.4 797.8,62.9 804.9,61.3 812.1,58.3 819.2,55.2 826.3,52.1 833.5,50.6 840.6,53.7" fill="none" stroke="#cc5a58" stroke-width="0.75" stroke-linejoin="round"/>
</g>
<rect x="706.5" y="26" width="142.0" height="140.3" fill="none" stroke="#cdcdcd" stroke-width="1.1"/>
<text class="t2" x="709.3" y="33.4" font-size="5.6" font-weight="bold" fill="#222">B</text>
<line x1="820.5" y1="145.8" x2="826.0" y2="145.8" stroke="#5a8ab8" stroke-width="1.1" stroke-opacity="0.6"/>
<text class="t2" x="829.0" y="147.2" font-size="4" fill="#222">Leaf 4</text>
<line x1="820.5" y1="150.6" x2="826.0" y2="150.6" stroke="#e0924a" stroke-width="1.1" stroke-opacity="0.6"/>
<text class="t2" x="829.0" y="152.0" font-size="4" fill="#222">Leaf 5</text>
<line x1="820.5" y1="155.4" x2="826.0" y2="155.4" stroke="#5ab45a" stroke-width="1.1" stroke-opacity="0.6"/>
<text class="t2" x="829.0" y="156.8" font-size="4" fill="#222">Leaf 6</text>
<line x1="820.5" y1="160.2" x2="826.0" y2="160.2" stroke="#cc5a58" stroke-width="1.1" stroke-opacity="0.6"/>
<text class="t2" x="829.0" y="161.6" font-size="4" fill="#222">Col-0</text>
<line x1="705.0" y1="44.8" x2="706.5" y2="44.8" stroke="#888" stroke-width="0.5"/>
<text x="704.0" y="45.9" font-size="3.2" text-anchor="end" fill="#555">0.80</text>
<line x1="705.0" y1="66.5" x2="706.5" y2="66.5" stroke="#888" stroke-width="0.5"/>
<text x="704.0" y="67.6" font-size="3.2" text-anchor="end" fill="#555">0.78</text>
<line x1="705.0" y1="88.2" x2="706.5" y2="88.2" stroke="#888" stroke-width="0.5"/>
<text x="704.0" y="89.3" font-size="3.2" text-anchor="end" fill="#555">0.76</text>
<line x1="705.0" y1="109.9" x2="706.5" y2="109.9" stroke="#888" stroke-width="0.5"/>
<text x="704.0" y="111.0" font-size="3.2" text-anchor="end" fill="#555">0.74</text>
<line x1="705.0" y1="131.6" x2="706.5" y2="131.6" stroke="#888" stroke-width="0.5"/>
<text x="704.0" y="132.7" font-size="3.2" text-anchor="end" fill="#555">0.72</text>
<line x1="705.0" y1="153.3" x2="706.5" y2="153.3" stroke="#888" stroke-width="0.5"/>
<text x="704.0" y="154.4" font-size="3.2" text-anchor="end" fill="#555">0.70</text>
<line x1="713.2" y1="166.3" x2="713.2" y2="167.8" stroke="#888" stroke-width="0.5"/>
<text x="713.2" y="171.0" font-size="3.6" text-anchor="middle" fill="#333">0</text>
<line x1="736.9" y1="166.3" x2="736.9" y2="167.8" stroke="#888" stroke-width="0.5"/>
<text x="736.9" y="171.0" font-size="3.6" text-anchor="middle" fill="#333">10</text>
<line x1="760.6" y1="166.3" x2="760.6" y2="167.8" stroke="#888" stroke-width="0.5"/>
<text x="760.6" y="171.0" font-size="3.6" text-anchor="middle" fill="#333">20</text>
<line x1="784.3" y1="166.3" x2="784.3" y2="167.8" stroke="#888" stroke-width="0.5"/>
<text x="784.3" y="171.0" font-size="3.6" text-anchor="middle" fill="#333">30</text>
<line x1="808.0" y1="166.3" x2="808.0" y2="167.8" stroke="#888" stroke-width="0.5"/>
<text x="808.0" y="171.0" font-size="3.6" text-anchor="middle" fill="#333">40</text>
<line x1="831.7" y1="166.3" x2="831.7" y2="167.8" stroke="#888" stroke-width="0.5"/>
<text x="831.7" y="171.0" font-size="3.6" text-anchor="middle" fill="#333">50</text>
</g>
<g>
<clipPath id="clipC"><rect x="550" y="172" width="141.5" height="141.2"/></clipPath>
<g clip-path="url(#clipC)">
<polygon points="556.1,227.3 563.3,223.6 570.4,221.2 577.6,221.2 584.7,217.8 591.8,215.0 599.0,213.5 606.1,210.4 613.2,207.3 620.4,204.3 627.5,201.2 634.6,199.7 641.8,196.6 648.9,193.5 656.1,192.0 663.2,190.4 670.3,188.9 677.5,188.3 684.6,188.9 684.6,198.1 677.5,197.5 670.3,198.1 663.2,199.7 656.1,201.2 648.9,202.7 641.8,205.8 634.6,208.9 627.5,210.4 620.4,213.5 613.2,216.6 606.1,219.6 599.0,222.7 591.8,224.2 584.7,227.6 577.6,232.2 570.4,233.5 563.3,237.2 556.1,242.7" fill="#e87070" fill-opacity="0.30" stroke="none"/>
<polygon points="584.7,212.0 591.8,208.9 599.0,208.9 606.1,205.8 613.2,202.7 620.4,201.2 627.5,198.1 634.6,195.0 641.8,192.0 648.9,188.9 656.1,184.3 663.2,182.8 670.3,179.7 677.5,179.7 684.6,179.7 684.6,193.5 677.5,193.5 670.3,193.5 663.2,196.6 656.1,199.7 648.9,204.3 641.8,208.9 634.6,215.0 627.5,219.6 620.4,227.3 613.2,236.5 606.1,251.9 599.0,255.0 591.8,238.1 584.7,305.7" fill="#6fa8dc" fill-opacity="0.30" stroke="none"/>
<polygon points="584.7,235.0 591.8,210.4 599.0,210.4 606.1,207.3 613.2,207.3 620.4,203.7 627.5,201.2 634.6,198.1 641.8,195.0 648.9,192.6 656.1,189.5 663.2,188.0 670.3,184.9 677.5,184.9 684.6,184.9 684.6,196.0 677.5,196.0 670.3,196.0 663.2,199.0 656.1,200.6 648.9,203.7 641.8,207.3 634.6,210.4 627.5,213.5 620.4,217.2 613.2,222.7 606.1,225.8 599.0,228.9 591.8,225.8 584.7,250.4" fill="#f5a05a" fill-opacity="0.35" stroke="none"/>
<polygon points="591.8,198.1 599.0,205.8 606.1,205.8 613.2,199.7 620.4,195.0 627.5,192.0 634.6,188.9 641.8,185.8 648.9,184.3 656.1,181.2 663.2,179.7 670.3,178.1 677.5,178.1 684.6,178.1 684.6,190.4 677.5,190.4 670.3,192.0 663.2,195.0 656.1,199.7 648.9,205.8 641.8,208.9 634.6,215.0 627.5,221.2 620.4,227.3 613.2,233.5 606.1,242.7 599.0,242.7 591.8,242.7" fill="#6cc06c" fill-opacity="0.35" stroke="none"/>
<polyline points="556.1,235.0 563.3,230.4 570.4,227.3 577.6,226.7 584.7,222.7 591.8,219.6 599.0,218.1 606.1,215.0 613.2,212.0 620.4,208.9 627.5,205.8 634.6,204.3 641.8,201.2 648.9,198.1 656.1,196.6 663.2,195.0 670.3,193.5 677.5,192.9 684.6,193.5" fill="none" stroke="#cc5a58" stroke-width="0.75" stroke-linejoin="round"/>
<polyline points="584.7,261.1 591.8,219.6 599.0,221.2 606.1,218.1 613.2,215.0 620.4,212.0 627.5,207.3 634.6,204.3 641.8,199.7 648.9,196.6 656.1,192.0 663.2,188.9 670.3,185.8 677.5,185.8 684.6,185.8" fill="none" stroke="#5a8ab8" stroke-width="0.75" stroke-linejoin="round"/>
<polyline points="584.7,242.7 591.8,218.1 599.0,219.6 606.1,216.6 613.2,215.0 620.4,210.4 627.5,207.3 634.6,204.3 641.8,201.2 648.9,198.1 656.1,195.0 663.2,193.5 670.3,190.4 677.5,190.4 684.6,190.4" fill="none" stroke="#e0924a" stroke-width="0.75" stroke-linejoin="round"/>
<polyline points="591.8,221.2 599.0,230.4 606.1,225.8 613.2,219.6 620.4,212.0 627.5,207.3 634.6,202.7 641.8,199.7 648.9,196.6 656.1,190.4 663.2,185.8 670.3,184.3 677.5,182.8 684.6,182.8" fill="none" stroke="#5ab45a" stroke-width="0.75" stroke-linejoin="round"/>
</g>
<rect x="550" y="172" width="141.5" height="141.2" fill="none" stroke="#cdcdcd" stroke-width="1.1"/>
<text class="t2" x="552.8" y="179.4" font-size="5.6" font-weight="bold" fill="#222">C</text>
<line x1="663.5" y1="292.7" x2="669.0" y2="292.7" stroke="#5a8ab8" stroke-width="1.1" stroke-opacity="0.6"/>
<text class="t2" x="672.0" y="294.1" font-size="4" fill="#222">Leaf 7</text>
<line x1="663.5" y1="297.5" x2="669.0" y2="297.5" stroke="#e0924a" stroke-width="1.1" stroke-opacity="0.6"/>
<text class="t2" x="672.0" y="298.9" font-size="4" fill="#222">Leaf 8</text>
<line x1="663.5" y1="302.3" x2="669.0" y2="302.3" stroke="#5ab45a" stroke-width="1.1" stroke-opacity="0.6"/>
<text class="t2" x="672.0" y="303.7" font-size="4" fill="#222">Leaf 9</text>
<line x1="663.5" y1="307.1" x2="669.0" y2="307.1" stroke="#cc5a58" stroke-width="1.1" stroke-opacity="0.6"/>
<text class="t2" x="672.0" y="308.5" font-size="4" fill="#222">Col-0</text>
<line x1="548.5" y1="173.5" x2="550.0" y2="173.5" stroke="#888" stroke-width="0.5"/>
<text x="547.5" y="174.6" font-size="3.2" text-anchor="end" fill="#555">0.80</text>
<line x1="548.5" y1="190.4" x2="550.0" y2="190.4" stroke="#888" stroke-width="0.5"/>
<text x="547.5" y="191.5" font-size="3.2" text-anchor="end" fill="#555">0.78</text>
<line x1="548.5" y1="207.3" x2="550.0" y2="207.3" stroke="#888" stroke-width="0.5"/>
<text x="547.5" y="208.4" font-size="3.2" text-anchor="end" fill="#555">0.76</text>
<line x1="548.5" y1="224.2" x2="550.0" y2="224.2" stroke="#888" stroke-width="0.5"/>
<text x="547.5" y="225.3" font-size="3.2" text-anchor="end" fill="#555">0.74</text>
<line x1="548.5" y1="241.1" x2="550.0" y2="241.1" stroke="#888" stroke-width="0.5"/>
<text x="547.5" y="242.2" font-size="3.2" text-anchor="end" fill="#555">0.72</text>
<line x1="548.5" y1="258.0" x2="550.0" y2="258.0" stroke="#888" stroke-width="0.5"/>
<text x="547.5" y="259.1" font-size="3.2" text-anchor="end" fill="#555">0.70</text>
<line x1="548.5" y1="274.9" x2="550.0" y2="274.9" stroke="#888" stroke-width="0.5"/>
<text x="547.5" y="276.0" font-size="3.2" text-anchor="end" fill="#555">0.68</text>
<line x1="548.5" y1="291.8" x2="550.0" y2="291.8" stroke="#888" stroke-width="0.5"/>
<text x="547.5" y="292.9" font-size="3.2" text-anchor="end" fill="#555">0.66</text>
<line x1="548.5" y1="308.7" x2="550.0" y2="308.7" stroke="#888" stroke-width="0.5"/>
<text x="547.5" y="309.8" font-size="3.2" text-anchor="end" fill="#555">0.64</text>
<line x1="556.7" y1="313.2" x2="556.7" y2="314.7" stroke="#888" stroke-width="0.5"/>
<text x="556.7" y="317.9" font-size="3.6" text-anchor="middle" fill="#333">0</text>
<line x1="580.4" y1="313.2" x2="580.4" y2="314.7" stroke="#888" stroke-width="0.5"/>
<text x="580.4" y="317.9" font-size="3.6" text-anchor="middle" fill="#333">10</text>
<line x1="604.1" y1="313.2" x2="604.1" y2="314.7" stroke="#888" stroke-width="0.5"/>
<text x="604.1" y="317.9" font-size="3.6" text-anchor="middle" fill="#333">20</text>
<line x1="627.8" y1="313.2" x2="627.8" y2="314.7" stroke="#888" stroke-width="0.5"/>
<text x="627.8" y="317.9" font-size="3.6" text-anchor="middle" fill="#333">30</text>
<line x1="651.5" y1="313.2" x2="651.5" y2="314.7" stroke="#888" stroke-width="0.5"/>
<text x="651.5" y="317.9" font-size="3.6" text-anchor="middle" fill="#333">40</text>
<line x1="675.2" y1="313.2" x2="675.2" y2="314.7" stroke="#888" stroke-width="0.5"/>
<text x="675.2" y="317.9" font-size="3.6" text-anchor="middle" fill="#333">50</text>
<text class="t2" x="536.5" y="243.0" font-size="5" text-anchor="middle" fill="#222" transform="rotate(-90 536.5 243.0)">Fv/Fm</text>
<text class="t2" x="548.5" y="317.7" font-size="4.4" text-anchor="end" fill="#222">Timepoint</text>
</g>
<g>
<clipPath id="clipD"><rect x="706.5" y="172" width="142.0" height="141.5"/></clipPath>
<g clip-path="url(#clipD)">
<polygon points="712.1,230.4 719.3,225.8 726.4,221.2 733.6,218.1 740.7,215.0 747.8,212.0 755.0,208.9 762.1,205.2 769.2,201.2 776.4,198.1 783.5,195.0 790.6,193.5 797.8,192.0 804.9,188.9 812.1,187.4 819.2,184.9 826.3,182.8 833.5,180.6 840.6,178.8 840.6,204.3 833.5,204.3 826.3,205.8 819.2,207.3 812.1,210.4 804.9,213.5 797.8,216.6 790.6,218.1 783.5,221.2 776.4,224.9 769.2,228.9 762.1,230.4 755.0,231.9 747.8,233.5 740.7,235.0 733.6,236.5 726.4,240.2 719.3,245.8 712.1,252.5" fill="#e87070" fill-opacity="0.30" stroke="none"/>
<polygon points="755.0,305.7 762.1,242.7 769.2,215.0 776.4,205.8 783.5,202.7 790.6,212.0 797.8,207.3 804.9,202.7 812.1,201.2 819.2,196.6 826.3,196.6 833.5,195.0 840.6,196.6 840.6,207.3 833.5,204.3 826.3,207.3 819.2,210.4 812.1,218.1 804.9,225.8 797.8,230.4 790.6,235.0 783.5,225.8 776.4,225.8 769.2,238.1 762.1,267.3 755.0,305.7" fill="#6fa8dc" fill-opacity="0.30" stroke="none"/>
<polygon points="769.2,208.9 776.4,205.8 783.5,204.3 790.6,204.3 797.8,202.7 804.9,199.7 812.1,196.6 819.2,192.0 826.3,190.4 833.5,187.4 840.6,188.9 840.6,201.2 833.5,199.7 826.3,202.7 819.2,204.3 812.1,208.9 804.9,212.0 797.8,215.0 790.6,216.6 783.5,216.6 776.4,218.1 769.2,221.2" fill="#6cc06c" fill-opacity="0.35" stroke="none"/>
<polygon points="776.4,204.3 783.5,199.7 790.6,201.2 797.8,197.5 804.9,195.0 812.1,192.0 819.2,187.4 826.3,184.9 833.5,181.2 840.6,179.7 840.6,204.3 833.5,202.7 826.3,202.1 819.2,202.7 812.1,207.3 804.9,210.4 797.8,211.0 790.6,213.5 783.5,212.0 776.4,216.6" fill="#f5a05a" fill-opacity="0.35" stroke="none"/>
<polyline points="712.1,241.1 719.3,235.0 726.4,230.4 733.6,227.3 740.7,225.8 747.8,222.7 755.0,221.2 762.1,218.1 769.2,216.6 776.4,212.0 783.5,207.3 790.6,205.8 797.8,204.3 804.9,201.2 812.1,198.1 819.2,196.6 826.3,194.1 833.5,193.5 840.6,193.5" fill="none" stroke="#cc5a58" stroke-width="0.75" stroke-linejoin="round"/>
<polyline points="755.0,305.7 762.1,255.0 769.2,227.3 776.4,213.5 783.5,210.4 790.6,221.2 797.8,216.6 804.9,212.0 812.1,208.9 819.2,202.7 826.3,201.2 833.5,198.1 840.6,199.7" fill="none" stroke="#5a8ab8" stroke-width="0.75" stroke-linejoin="round"/>
<polyline points="769.2,215.0 776.4,212.0 783.5,210.4 790.6,210.4 797.8,208.9 804.9,205.8 812.1,202.7 819.2,198.1 826.3,196.6 833.5,193.5 840.6,195.0" fill="none" stroke="#5ab45a" stroke-width="0.75" stroke-linejoin="round"/>
<polyline points="776.4,210.4 783.5,205.8 790.6,207.3 797.8,204.3 804.9,202.7 812.1,199.7 819.2,195.0 826.3,193.5 833.5,192.0 840.6,192.0" fill="none" stroke="#e0924a" stroke-width="0.75" stroke-linejoin="round"/>
</g>
<rect x="706.5" y="172" width="142.0" height="141.5" fill="none" stroke="#cdcdcd" stroke-width="1.1"/>
<text class="t2" x="709.3" y="179.4" font-size="5.6" font-weight="bold" fill="#222">D</text>
<line x1="820.5" y1="293.0" x2="826.0" y2="293.0" stroke="#5a8ab8" stroke-width="1.1" stroke-opacity="0.6"/>
<text class="t2" x="829.0" y="294.4" font-size="4" fill="#222">Leaf 10</text>
<line x1="820.5" y1="297.8" x2="826.0" y2="297.8" stroke="#e0924a" stroke-width="1.1" stroke-opacity="0.6"/>
<text class="t2" x="829.0" y="299.2" font-size="4" fill="#222">Leaf 11</text>
<line x1="820.5" y1="302.6" x2="826.0" y2="302.6" stroke="#5ab45a" stroke-width="1.1" stroke-opacity="0.6"/>
<text class="t2" x="829.0" y="304.0" font-size="4" fill="#222">Leaf 12</text>
<line x1="820.5" y1="307.4" x2="826.0" y2="307.4" stroke="#cc5a58" stroke-width="1.1" stroke-opacity="0.6"/>
<text class="t2" x="829.0" y="308.8" font-size="4" fill="#222">Col-0</text>
<line x1="705.0" y1="188.0" x2="706.5" y2="188.0" stroke="#888" stroke-width="0.5"/>
<text x="704.0" y="189.1" font-size="3.2" text-anchor="end" fill="#555">0.80</text>
<line x1="705.0" y1="207.9" x2="706.5" y2="207.9" stroke="#888" stroke-width="0.5"/>
<text x="704.0" y="209.0" font-size="3.2" text-anchor="end" fill="#555">0.78</text>
<line x1="705.0" y1="227.8" x2="706.5" y2="227.8" stroke="#888" stroke-width="0.5"/>
<text x="704.0" y="228.9" font-size="3.2" text-anchor="end" fill="#555">0.76</text>
<line x1="705.0" y1="247.7" x2="706.5" y2="247.7" stroke="#888" stroke-width="0.5"/>
<text x="704.0" y="248.8" font-size="3.2" text-anchor="end" fill="#555">0.74</text>
<line x1="705.0" y1="267.6" x2="706.5" y2="267.6" stroke="#888" stroke-width="0.5"/>
<text x="704.0" y="268.7" font-size="3.2" text-anchor="end" fill="#555">0.72</text>
<line x1="705.0" y1="287.5" x2="706.5" y2="287.5" stroke="#888" stroke-width="0.5"/>
<text x="704.0" y="288.6" font-size="3.2" text-anchor="end" fill="#555">0.70</text>
<line x1="705.0" y1="307.4" x2="706.5" y2="307.4" stroke="#888" stroke-width="0.5"/>
<text x="704.0" y="308.5" font-size="3.2" text-anchor="end" fill="#555">0.68</text>
<line x1="713.2" y1="313.5" x2="713.2" y2="315.0" stroke="#888" stroke-width="0.5"/>
<line x1="736.9" y1="313.5" x2="736.9" y2="315.0" stroke="#888" stroke-width="0.5"/>
<line x1="760.6" y1="313.5" x2="760.6" y2="315.0" stroke="#888" stroke-width="0.5"/>
<line x1="784.3" y1="313.5" x2="784.3" y2="315.0" stroke="#888" stroke-width="0.5"/>
<line x1="808.0" y1="313.5" x2="808.0" y2="315.0" stroke="#888" stroke-width="0.5"/>
<line x1="831.7" y1="313.5" x2="831.7" y2="315.0" stroke="#888" stroke-width="0.5"/>
</g>
<g>
<clipPath id="clipE"><rect x="549.5" y="318.5" width="141.5" height="140.8"/></clipPath>
<g clip-path="url(#clipE)">
<polygon points="555.1,419.4 562.3,413.3 569.4,407.1 576.6,402.5 583.7,396.4 590.8,390.2 598.0,384.1 605.1,377.9 612.2,370.2 619.4,362.6 626.5,362.6 633.6,358.0 640.8,351.8 647.9,348.7 655.1,347.2 662.2,339.5 669.3,339.5 676.5,336.4 683.6,334.9 683.6,367.2 676.5,370.2 669.3,374.9 662.2,379.5 655.1,385.6 647.9,390.2 640.8,394.8 633.6,397.9 626.5,402.5 619.4,404.0 612.2,410.2 605.1,416.3 598.0,419.4 590.8,419.4 583.7,424.0 576.6,428.6 569.4,433.2 562.3,440.9 555.1,451.7" fill="#e87070" fill-opacity="0.35" stroke="none"/>
<polygon points="633.6,345.7 640.8,348.7 647.9,345.7 655.1,347.2 662.2,341.0 669.3,339.5 676.5,336.4 683.6,330.3 683.6,361.0 676.5,364.1 669.3,370.2 662.2,376.4 655.1,397.9 647.9,394.8 640.8,397.9 633.6,419.4" fill="#6fa8dc" fill-opacity="0.30" stroke="none"/>
<polygon points="640.8,370.2 647.9,361.0 655.1,362.6 662.2,344.1 669.3,341.0 676.5,341.0 683.6,339.5 683.6,364.1 676.5,365.6 669.3,368.7 662.2,374.9 655.1,399.4 647.9,397.9 640.8,407.1" fill="#f5a05a" fill-opacity="0.35" stroke="none"/>
<polygon points="647.9,351.8 655.1,367.2 662.2,324.1 669.3,330.3 676.5,327.2 683.6,327.2 683.6,379.5 676.5,373.3 669.3,379.5 662.2,394.8 655.1,419.4 647.9,410.2" fill="#6cc06c" fill-opacity="0.35" stroke="none"/>
<polyline points="555.1,431.7 562.3,425.6 569.4,416.3 576.6,413.3 583.7,407.1 590.8,404.0 598.0,399.4 605.1,396.4 612.2,390.2 619.4,379.5 626.5,377.9 633.6,374.9 640.8,371.8 647.9,367.2 655.1,362.6 662.2,356.4 669.3,353.3 676.5,351.8 683.6,348.7" fill="none" stroke="#cc5a58" stroke-width="0.75" stroke-linejoin="round"/>
<polyline points="612.2,425.6 619.4,371.8 626.5,384.1 633.6,370.2 640.8,382.5 647.9,368.7 655.1,373.3 662.2,354.9 669.3,356.4 676.5,350.3 683.6,345.7" fill="none" stroke="#5a8ab8" stroke-width="0.75" stroke-linejoin="round"/>
<polyline points="640.8,388.7 647.9,379.5 655.1,381.0 662.2,359.5 669.3,354.9 676.5,353.3 683.6,351.8" fill="none" stroke="#e0924a" stroke-width="0.75" stroke-linejoin="round"/>
<polyline points="647.9,381.0 655.1,379.5 662.2,358.0 669.3,358.0 676.5,354.9 683.6,353.3" fill="none" stroke="#5ab45a" stroke-width="0.75" stroke-linejoin="round"/>
</g>
<rect x="549.5" y="318.5" width="141.5" height="140.8" fill="none" stroke="#cdcdcd" stroke-width="1.1"/>
<text class="t2" x="552.3" y="325.9" font-size="5.6" font-weight="bold" fill="#222">E</text>
<line x1="663.0" y1="438.8" x2="668.5" y2="438.8" stroke="#5a8ab8" stroke-width="1.1" stroke-opacity="0.6"/>
<text class="t2" x="671.5" y="440.2" font-size="4" fill="#222">Leaf 13</text>
<line x1="663.0" y1="443.6" x2="668.5" y2="443.6" stroke="#e0924a" stroke-width="1.1" stroke-opacity="0.6"/>
<text class="t2" x="671.5" y="445.0" font-size="4" fill="#222">Leaf 14</text>
<line x1="663.0" y1="448.4" x2="668.5" y2="448.4" stroke="#5ab45a" stroke-width="1.1" stroke-opacity="0.6"/>
<text class="t2" x="671.5" y="449.8" font-size="4" fill="#222">Leaf 15</text>
<line x1="663.0" y1="453.2" x2="668.5" y2="453.2" stroke="#cc5a58" stroke-width="1.1" stroke-opacity="0.6"/>
<text class="t2" x="671.5" y="454.6" font-size="4" fill="#222">Col-0</text>
<line x1="548.0" y1="326.3" x2="549.5" y2="326.3" stroke="#888" stroke-width="0.5"/>
<text x="547.0" y="327.4" font-size="3.2" text-anchor="end" fill="#555">0.80</text>
<line x1="548.0" y1="343.1" x2="549.5" y2="343.1" stroke="#888" stroke-width="0.5"/>
<text x="547.0" y="344.2" font-size="3.2" text-anchor="end" fill="#555">0.78</text>
<line x1="548.0" y1="359.9" x2="549.5" y2="359.9" stroke="#888" stroke-width="0.5"/>
<text x="547.0" y="361.0" font-size="3.2" text-anchor="end" fill="#555">0.76</text>
<line x1="548.0" y1="376.7" x2="549.5" y2="376.7" stroke="#888" stroke-width="0.5"/>
<text x="547.0" y="377.8" font-size="3.2" text-anchor="end" fill="#555">0.74</text>
<line x1="548.0" y1="393.5" x2="549.5" y2="393.5" stroke="#888" stroke-width="0.5"/>
<text x="547.0" y="394.6" font-size="3.2" text-anchor="end" fill="#555">0.72</text>
<line x1="548.0" y1="410.3" x2="549.5" y2="410.3" stroke="#888" stroke-width="0.5"/>
<text x="547.0" y="411.4" font-size="3.2" text-anchor="end" fill="#555">0.70</text>
<line x1="548.0" y1="427.1" x2="549.5" y2="427.1" stroke="#888" stroke-width="0.5"/>
<text x="547.0" y="428.2" font-size="3.2" text-anchor="end" fill="#555">0.68</text>
<line x1="548.0" y1="443.9" x2="549.5" y2="443.9" stroke="#888" stroke-width="0.5"/>
<text x="547.0" y="445.0" font-size="3.2" text-anchor="end" fill="#555">0.66</text>
<line x1="556.2" y1="459.3" x2="556.2" y2="460.8" stroke="#888" stroke-width="0.5"/>
<line x1="579.9" y1="459.3" x2="579.9" y2="460.8" stroke="#888" stroke-width="0.5"/>
<line x1="603.6" y1="459.3" x2="603.6" y2="460.8" stroke="#888" stroke-width="0.5"/>
<line x1="627.3" y1="459.3" x2="627.3" y2="460.8" stroke="#888" stroke-width="0.5"/>
<line x1="651.0" y1="459.3" x2="651.0" y2="460.8" stroke="#888" stroke-width="0.5"/>
<line x1="674.7" y1="459.3" x2="674.7" y2="460.8" stroke="#888" stroke-width="0.5"/>
<text class="t2" x="536.0" y="391.5" font-size="5" text-anchor="middle" fill="#222" transform="rotate(-90 536.0 391.5)">Fv/Fm</text>
</g>
<filter id="wol" x="-10%" y="-40%" width="120%" height="180%"><feMorphology in="SourceAlpha" operator="erode" radius="0.65" result="er"/><feComposite in="SourceGraphic" in2="er" operator="out"/></filter>
<g transform="translate(310.1 104.4) rotate(20.0)">
<g filter="url(#wol)" opacity="0.42"><path d="M13.8 -50.9 A11.5 11.5 0 1 0 13.8 -36.1 M-1 -43.5 H14 M33.2 -48.2 A9.5 9.5 0 1 0 33.2 -34.8 M61.5 -42 A9.5 9.5 0 1 0 42.5 -42 A9.5 9.5 0 1 0 61.5 -42 M67 -53.5 H91 M79 -53.5 V-30 M93.5 -41.5 H112.5 A9.5 9.5 0 1 0 109.7 -34.8 M131.2 -48.2 A9.5 9.5 0 1 0 131.2 -34.8 M138 -60 V-30 M138 -44 Q140 -50 146 -49.5 Q151 -49 151 -43 V-30" transform="translate(0 -42) scale(1.05 1.2) translate(0 42)" fill="none" stroke="#3cbf3c" stroke-width="6.6"/></g>
<circle cx="163" cy="-57" r="4" fill="none" stroke="#3cbf3c" stroke-opacity="0.55" stroke-width="0.7"/>
<text x="163" y="-54.8" font-size="6" text-anchor="middle" fill="none" stroke="#3cbf3c" stroke-opacity="0.55" stroke-width="0.5">R</text>
<line x1="-8.2" y1="-18.7" x2="165" y2="-18.7" stroke="#30a870" stroke-opacity="0.4" stroke-width="3"/>
<path d="M2.5 0.6H7.5V4.6H2.5Z M2.5 2.6H7.5 M1 5.6H8.6L8.2 9.4L7 9.9 M3.2 5.7L1 8.6 M5.3 6L2.6 9.6 M7.2 6.2L4.6 9.9" transform="translate(-8.0 -8) scale(1.6)" fill="none" stroke="#404040" stroke-opacity="0.34" stroke-width="1.35" stroke-linecap="square"/>
<path d="M1 1.2L4 0.5 M0.5 3H4.5 M2.5 0.8V10 M2.4 4L0.3 7.6 M2.7 4.4L4.3 6 M5.6 1.8L6.6 2.8 M5.6 4.3L6.6 5.3 M5 7.2L10 6.4 M8.5 0.4V10" transform="translate(17.4 -8) scale(1.6)" fill="none" stroke="#404040" stroke-opacity="0.34" stroke-width="1.35" stroke-linecap="square"/>
<path d="M2 1.4H8 M1.5 2.9H8.5 M0.5 4.5H9.5 M5 0.2V4.5 M4.6 4.6L1 7.6 M5.4 4.6L9.6 7.6 M5 6V10 M3 7.5L4.2 8.6 M7 7.5L5.9 8.6 M3.4 9.6L4.2 9 M6.6 9.6L5.8 9" transform="translate(42.8 -8) scale(1.6)" fill="none" stroke="#404040" stroke-opacity="0.34" stroke-width="1.35" stroke-linecap="square"/>
<path d="M2.6 0.5L1 4 M1.6 3H8.6 M2 6.1H8 M0.5 9.5H9.5 M5 0.5V9.5" transform="translate(68.2 -8) scale(1.6)" fill="none" stroke="#404040" stroke-opacity="0.34" stroke-width="1.35" stroke-linecap="square"/>
<path d="M1 2.5H9 M5 0.3V2.5L1 6.5 M5 2.5L9.5 6.5 M4.5 4.8L5.3 5.8 M1.5 8L1 9.6 M3 7V9.5H7 M5 7.1L5.6 8 M8 7.6L9.1 9" transform="translate(93.6 -8) scale(1.6)" fill="none" stroke="#404040" stroke-opacity="0.34" stroke-width="1.35" stroke-linecap="square"/>
<path d="M0.5 3H4 M2.3 0.5V9.5L1.3 9 M0.5 7.2L4 5.6 M4.8 2.5H9.8 M7.3 0.5V4.5 M5.5 4.6H9 L5 10 M6 6.2L10 10" transform="translate(119.0 -8) scale(1.6)" fill="none" stroke="#404040" stroke-opacity="0.34" stroke-width="1.35" stroke-linecap="square"/>
<path d="M0.5 3.6H9.5 M5 0.5V10 M4.8 4L0.5 8.6 M5.2 4L9.5 8.6 M6.5 0.8L7.5 1.8" transform="translate(144.4 -8) scale(1.6)" fill="none" stroke="#404040" stroke-opacity="0.34" stroke-width="1.35" stroke-linecap="square"/>
</g>
<g transform="translate(609.8 212.5) rotate(20.0)">
<g filter="url(#wol)" opacity="0.42"><path d="M13.8 -50.9 A11.5 11.5 0 1 0 13.8 -36.1 M-1 -43.5 H14 M33.2 -48.2 A9.5 9.5 0 1 0 33.2 -34.8 M61.5 -42 A9.5 9.5 0 1 0 42.5 -42 A9.5 9.5 0 1 0 61.5 -42 M67 -53.5 H91 M79 -53.5 V-30 M93.5 -41.5 H112.5 A9.5 9.5 0 1 0 109.7 -34.8 M131.2 -48.2 A9.5 9.5 0 1 0 131.2 -34.8 M138 -60 V-30 M138 -44 Q140 -50 146 -49.5 Q151 -49 151 -43 V-30" transform="translate(0 -42) scale(1.05 1.2) translate(0 42)" fill="none" stroke="#3cbf3c" stroke-width="6.6"/></g>
<circle cx="163" cy="-57" r="4" fill="none" stroke="#3cbf3c" stroke-opacity="0.55" stroke-width="0.7"/>
<text x="163" y="-54.8" font-size="6" text-anchor="middle" fill="none" stroke="#3cbf3c" stroke-opacity="0.55" stroke-width="0.5">R</text>
<line x1="-8.2" y1="-18.7" x2="165" y2="-18.7" stroke="#30a870" stroke-opacity="0.4" stroke-width="3"/>
<path d="M2.5 0.6H7.5V4.6H2.5Z M2.5 2.6H7.5 M1 5.6H8.6L8.2 9.4L7 9.9 M3.2 5.7L1 8.6 M5.3 6L2.6 9.6 M7.2 6.2L4.6 9.9" transform="translate(-8.0 -8) scale(1.6)" fill="none" stroke="#404040" stroke-opacity="0.34" stroke-width="1.35" stroke-linecap="square"/>
<path d="M1 1.2L4 0.5 M0.5 3H4.5 M2.5 0.8V10 M2.4 4L0.3 7.6 M2.7 4.4L4.3 6 M5.6 1.8L6.6 2.8 M5.6 4.3L6.6 5.3 M5 7.2L10 6.4 M8.5 0.4V10" transform="translate(17.4 -8) scale(1.6)" fill="none" stroke="#404040" stroke-opacity="0.34" stroke-width="1.35" stroke-linecap="square"/>
<path d="M2 1.4H8 M1.5 2.9H8.5 M0.5 4.5H9.5 M5 0.2V4.5 M4.6 4.6L1 7.6 M5.4 4.6L9.6 7.6 M5 6V10 M3 7.5L4.2 8.6 M7 7.5L5.9 8.6 M3.4 9.6L4.2 9 M6.6 9.6L5.8 9" transform="translate(42.8 -8) scale(1.6)" fill="none" stroke="#404040" stroke-opacity="0.34" stroke-width="1.35" stroke-linecap="square"/>
<path d="M2.6 0.5L1 4 M1.6 3H8.6 M2 6.1H8 M0.5 9.5H9.5 M5 0.5V9.5" transform="translate(68.2 -8) scale(1.6)" fill="none" stroke="#404040" stroke-opacity="0.34" stroke-width="1.35" stroke-linecap="square"/>
<path d="M1 2.5H9 M5 0.3V2.5L1 6.5 M5 2.5L9.5 6.5 M4.5 4.8L5.3 5.8 M1.5 8L1 9.6 M3 7V9.5H7 M5 7.1L5.6 8 M8 7.6L9.1 9" transform="translate(93.6 -8) scale(1.6)" fill="none" stroke="#404040" stroke-opacity="0.34" stroke-width="1.35" stroke-linecap="square"/>
<path d="M0.5 3H4 M2.3 0.5V9.5L1.3 9 M0.5 7.2L4 5.6 M4.8 2.5H9.8 M7.3 0.5V4.5 M5.5 4.6H9 L5 10 M6 6.2L10 10" transform="translate(119.0 -8) scale(1.6)" fill="none" stroke="#404040" stroke-opacity="0.34" stroke-width="1.35" stroke-linecap="square"/>
<path d="M0.5 3.6H9.5 M5 0.5V10 M4.8 4L0.5 8.6 M5.2 4L9.5 8.6 M6.5 0.8L7.5 1.8" transform="translate(144.4 -8) scale(1.6)" fill="none" stroke="#404040" stroke-opacity="0.34" stroke-width="1.35" stroke-linecap="square"/>
</g>
<g transform="translate(237.5 305.0) rotate(20.0)">
<g filter="url(#wol)" opacity="0.42"><path d="M13.8 -50.9 A11.5 11.5 0 1 0 13.8 -36.1 M-1 -43.5 H14 M33.2 -48.2 A9.5 9.5 0 1 0 33.2 -34.8 M61.5 -42 A9.5 9.5 0 1 0 42.5 -42 A9.5 9.5 0 1 0 61.5 -42 M67 -53.5 H91 M79 -53.5 V-30 M93.5 -41.5 H112.5 A9.5 9.5 0 1 0 109.7 -34.8 M131.2 -48.2 A9.5 9.5 0 1 0 131.2 -34.8 M138 -60 V-30 M138 -44 Q140 -50 146 -49.5 Q151 -49 151 -43 V-30" transform="translate(0 -42) scale(1.05 1.2) translate(0 42)" fill="none" stroke="#3cbf3c" stroke-width="6.6"/></g>
<circle cx="163" cy="-57" r="4" fill="none" stroke="#3cbf3c" stroke-opacity="0.55" stroke-width="0.7"/>
<text x="163" y="-54.8" font-size="6" text-anchor="middle" fill="none" stroke="#3cbf3c" stroke-opacity="0.55" stroke-width="0.5">R</text>
<line x1="-8.2" y1="-18.7" x2="165" y2="-18.7" stroke="#30a870" stroke-opacity="0.4" stroke-width="3"/>
<path d="M2.5 0.6H7.5V4.6H2.5Z M2.5 2.6H7.5 M1 5.6H8.6L8.2 9.4L7 9.9 M3.2 5.7L1 8.6 M5.3 6L2.6 9.6 M7.2 6.2L4.6 9.9" transform="translate(-8.0 -8) scale(1.6)" fill="none" stroke="#404040" stroke-opacity="0.34" stroke-width="1.35" stroke-linecap="square"/>
<path d="M1 1.2L4 0.5 M0.5 3H4.5 M2.5 0.8V10 M2.4 4L0.3 7.6 M2.7 4.4L4.3 6 M5.6 1.8L6.6 2.8 M5.6 4.3L6.6 5.3 M5 7.2L10 6.4 M8.5 0.4V10" transform="translate(17.4 -8) scale(1.6)" fill="none" stroke="#404040" stroke-opacity="0.34" stroke-width="1.35" stroke-linecap="square"/>
<path d="M2 1.4H8 M1.5 2.9H8.5 M0.5 4.5H9.5 M5 0.2V4.5 M4.6 4.6L1 7.6 M5.4 4.6L9.6 7.6 M5 6V10 M3 7.5L4.2 8.6 M7 7.5L5.9 8.6 M3.4 9.6L4.2 9 M6.6 9.6L5.8 9" transform="translate(42.8 -8) scale(1.6)" fill="none" stroke="#404040" stroke-opacity="0.34" stroke-width="1.35" stroke-linecap="square"/>
<path d="M2.6 0.5L1 4 M1.6 3H8.6 M2 6.1H8 M0.5 9.5H9.5 M5 0.5V9.5" transform="translate(68.2 -8) scale(1.6)" fill="none" stroke="#404040" stroke-opacity="0.34" stroke-width="1.35" stroke-linecap="square"/>
<path d="M1 2.5H9 M5 0.3V2.5L1 6.5 M5 2.5L9.5 6.5 M4.5 4.8L5.3 5.8 M1.5 8L1 9.6 M3 7V9.5H7 M5 7.1L5.6 8 M8 7.6L9.1 9" transform="translate(93.6 -8) scale(1.6)" fill="none" stroke="#404040" stroke-opacity="0.34" stroke-width="1.35" stroke-linecap="square"/>
<path d="M0.5 3H4 M2.3 0.5V9.5L1.3 9 M0.5 7.2L4 5.6 M4.8 2.5H9.8 M7.3 0.5V4.5 M5.5 4.6H9 L5 10 M6 6.2L10 10" transform="translate(119.0 -8) scale(1.6)" fill="none" stroke="#404040" stroke-opacity="0.34" stroke-width="1.35" stroke-linecap="square"/>
<path d="M0.5 3.6H9.5 M5 0.5V10 M4.8 4L0.5 8.6 M5.2 4L9.5 8.6 M6.5 0.8L7.5 1.8" transform="translate(144.4 -8) scale(1.6)" fill="none" stroke="#404040" stroke-opacity="0.34" stroke-width="1.35" stroke-linecap="square"/>
</g>
<g transform="translate(537.2 413.1) rotate(20.0)">
<g filter="url(#wol)" opacity="0.42"><path d="M13.8 -50.9 A11.5 11.5 0 1 0 13.8 -36.1 M-1 -43.5 H14 M33.2 -48.2 A9.5 9.5 0 1 0 33.2 -34.8 M61.5 -42 A9.5 9.5 0 1 0 42.5 -42 A9.5 9.5 0 1 0 61.5 -42 M67 -53.5 H91 M79 -53.5 V-30 M93.5 -41.5 H112.5 A9.5 9.5 0 1 0 109.7 -34.8 M131.2 -48.2 A9.5 9.5 0 1 0 131.2 -34.8 M138 -60 V-30 M138 -44 Q140 -50 146 -49.5 Q151 -49 151 -43 V-30" transform="translate(0 -42) scale(1.05 1.2) translate(0 42)" fill="none" stroke="#3cbf3c" stroke-width="6.6"/></g>
<circle cx="163" cy="-57" r="4" fill="none" stroke="#3cbf3c" stroke-opacity="0.55" stroke-width="0.7"/>
<text x="163" y="-54.8" font-size="6" text-anchor="middle" fill="none" stroke="#3cbf3c" stroke-opacity="0.55" stroke-width="0.5">R</text>
<line x1="-8.2" y1="-18.7" x2="165" y2="-18.7" stroke="#30a870" stroke-opacity="0.4" stroke-width="3"/>
<path d="M2.5 0.6H7.5V4.6H2.5Z M2.5 2.6H7.5 M1 5.6H8.6L8.2 9.4L7 9.9 M3.2 5.7L1 8.6 M5.3 6L2.6 9.6 M7.2 6.2L4.6 9.9" transform="translate(-8.0 -8) scale(1.6)" fill="none" stroke="#404040" stroke-opacity="0.34" stroke-width="1.35" stroke-linecap="square"/>
<path d="M1 1.2L4 0.5 M0.5 3H4.5 M2.5 0.8V10 M2.4 4L0.3 7.6 M2.7 4.4L4.3 6 M5.6 1.8L6.6 2.8 M5.6 4.3L6.6 5.3 M5 7.2L10 6.4 M8.5 0.4V10" transform="translate(17.4 -8) scale(1.6)" fill="none" stroke="#404040" stroke-opacity="0.34" stroke-width="1.35" stroke-linecap="square"/>
<path d="M2 1.4H8 M1.5 2.9H8.5 M0.5 4.5H9.5 M5 0.2V4.5 M4.6 4.6L1 7.6 M5.4 4.6L9.6 7.6 M5 6V10 M3 7.5L4.2 8.6 M7 7.5L5.9 8.6 M3.4 9.6L4.2 9 M6.6 9.6L5.8 9" transform="translate(42.8 -8) scale(1.6)" fill="none" stroke="#404040" stroke-opacity="0.34" stroke-width="1.35" stroke-linecap="square"/>
<path d="M2.6 0.5L1 4 M1.6 3H8.6 M2 6.1H8 M0.5 9.5H9.5 M5 0.5V9.5" transform="translate(68.2 -8) scale(1.6)" fill="none" stroke="#404040" stroke-opacity="0.34" stroke-width="1.35" stroke-linecap="square"/>
<path d="M1 2.5H9 M5 0.3V2.5L1 6.5 M5 2.5L9.5 6.5 M4.5 4.8L5.3 5.8 M1.5 8L1 9.6 M3 7V9.5H7 M5 7.1L5.6 8 M8 7.6L9.1 9" transform="translate(93.6 -8) scale(1.6)" fill="none" stroke="#404040" stroke-opacity="0.34" stroke-width="1.35" stroke-linecap="square"/>
<path d="M0.5 3H4 M2.3 0.5V9.5L1.3 9 M0.5 7.2L4 5.6 M4.8 2.5H9.8 M7.3 0.5V4.5 M5.5 4.6H9 L5 10 M6 6.2L10 10" transform="translate(119.0 -8) scale(1.6)" fill="none" stroke="#404040" stroke-opacity="0.34" stroke-width="1.35" stroke-linecap="square"/>
<path d="M0.5 3.6H9.5 M5 0.5V10 M4.8 4L0.5 8.6 M5.2 4L9.5 8.6 M6.5 0.8L7.5 1.8" transform="translate(144.4 -8) scale(1.6)" fill="none" stroke="#404040" stroke-opacity="0.34" stroke-width="1.35" stroke-linecap="square"/>
</g>
<g transform="translate(-62.2 196.9) rotate(20.0)">
<g filter="url(#wol)" opacity="0.42"><path d="M13.8 -50.9 A11.5 11.5 0 1 0 13.8 -36.1 M-1 -43.5 H14 M33.2 -48.2 A9.5 9.5 0 1 0 33.2 -34.8 M61.5 -42 A9.5 9.5 0 1 0 42.5 -42 A9.5 9.5 0 1 0 61.5 -42 M67 -53.5 H91 M79 -53.5 V-30 M93.5 -41.5 H112.5 A9.5 9.5 0 1 0 109.7 -34.8 M131.2 -48.2 A9.5 9.5 0 1 0 131.2 -34.8 M138 -60 V-30 M138 -44 Q140 -50 146 -49.5 Q151 -49 151 -43 V-30" transform="translate(0 -42) scale(1.05 1.2) translate(0 42)" fill="none" stroke="#3cbf3c" stroke-width="6.6"/></g>
<circle cx="163" cy="-57" r="4" fill="none" stroke="#3cbf3c" stroke-opacity="0.55" stroke-width="0.7"/>
<text x="163" y="-54.8" font-size="6" text-anchor="middle" fill="none" stroke="#3cbf3c" stroke-opacity="0.55" stroke-width="0.5">R</text>
<line x1="-8.2" y1="-18.7" x2="165" y2="-18.7" stroke="#30a870" stroke-opacity="0.4" stroke-width="3"/>
<path d="M2.5 0.6H7.5V4.6H2.5Z M2.5 2.6H7.5 M1 5.6H8.6L8.2 9.4L7 9.9 M3.2 5.7L1 8.6 M5.3 6L2.6 9.6 M7.2 6.2L4.6 9.9" transform="translate(-8.0 -8) scale(1.6)" fill="none" stroke="#404040" stroke-opacity="0.34" stroke-width="1.35" stroke-linecap="square"/>
<path d="M1 1.2L4 0.5 M0.5 3H4.5 M2.5 0.8V10 M2.4 4L0.3 7.6 M2.7 4.4L4.3 6 M5.6 1.8L6.6 2.8 M5.6 4.3L6.6 5.3 M5 7.2L10 6.4 M8.5 0.4V10" transform="translate(17.4 -8) scale(1.6)" fill="none" stroke="#404040" stroke-opacity="0.34" stroke-width="1.35" stroke-linecap="square"/>
<path d="M2 1.4H8 M1.5 2.9H8.5 M0.5 4.5H9.5 M5 0.2V4.5 M4.6 4.6L1 7.6 M5.4 4.6L9.6 7.6 M5 6V10 M3 7.5L4.2 8.6 M7 7.5L5.9 8.6 M3.4 9.6L4.2 9 M6.6 9.6L5.8 9" transform="translate(42.8 -8) scale(1.6)" fill="none" stroke="#404040" stroke-opacity="0.34" stroke-width="1.35" stroke-linecap="square"/>
<path d="M2.6 0.5L1 4 M1.6 3H8.6 M2 6.1H8 M0.5 9.5H9.5 M5 0.5V9.5" transform="translate(68.2 -8) scale(1.6)" fill="none" stroke="#404040" stroke-opacity="0.34" stroke-width="1.35" stroke-linecap="square"/>
<path d="M1 2.5H9 M5 0.3V2.5L1 6.5 M5 2.5L9.5 6.5 M4.5 4.8L5.3 5.8 M1.5 8L1 9.6 M3 7V9.5H7 M5 7.1L5.6 8 M8 7.6L9.1 9" transform="translate(93.6 -8) scale(1.6)" fill="none" stroke="#404040" stroke-opacity="0.34" stroke-width="1.35" stroke-linecap="square"/>
<path d="M0.5 3H4 M2.3 0.5V9.5L1.3 9 M0.5 7.2L4 5.6 M4.8 2.5H9.8 M7.3 0.5V4.5 M5.5 4.6H9 L5 10 M6 6.2L10 10" transform="translate(119.0 -8) scale(1.6)" fill="none" stroke="#404040" stroke-opacity="0.34" stroke-width="1.35" stroke-linecap="square"/>
<path d="M0.5 3.6H9.5 M5 0.5V10 M4.8 4L0.5 8.6 M5.2 4L9.5 8.6 M6.5 0.8L7.5 1.8" transform="translate(144.4 -8) scale(1.6)" fill="none" stroke="#404040" stroke-opacity="0.34" stroke-width="1.35" stroke-linecap="square"/>
</g>
<g transform="translate(-134.8 397.5) rotate(20.0)">
<g filter="url(#wol)" opacity="0.42"><path d="M13.8 -50.9 A11.5 11.5 0 1 0 13.8 -36.1 M-1 -43.5 H14 M33.2 -48.2 A9.5 9.5 0 1 0 33.2 -34.8 M61.5 -42 A9.5 9.5 0 1 0 42.5 -42 A9.5 9.5 0 1 0 61.5 -42 M67 -53.5 H91 M79 -53.5 V-30 M93.5 -41.5 H112.5 A9.5 9.5 0 1 0 109.7 -34.8 M131.2 -48.2 A9.5 9.5 0 1 0 131.2 -34.8 M138 -60 V-30 M138 -44 Q140 -50 146 -49.5 Q151 -49 151 -43 V-30" transform="translate(0 -42) scale(1.05 1.2) translate(0 42)" fill="none" stroke="#3cbf3c" stroke-width="6.6"/></g>
<circle cx="163" cy="-57" r="4" fill="none" stroke="#3cbf3c" stroke-opacity="0.55" stroke-width="0.7"/>
<text x="163" y="-54.8" font-size="6" text-anchor="middle" fill="none" stroke="#3cbf3c" stroke-opacity="0.55" stroke-width="0.5">R</text>
<line x1="-8.2" y1="-18.7" x2="165" y2="-18.7" stroke="#30a870" stroke-opacity="0.4" stroke-width="3"/>
<path d="M2.5 0.6H7.5V4.6H2.5Z M2.5 2.6H7.5 M1 5.6H8.6L8.2 9.4L7 9.9 M3.2 5.7L1 8.6 M5.3 6L2.6 9.6 M7.2 6.2L4.6 9.9" transform="translate(-8.0 -8) scale(1.6)" fill="none" stroke="#404040" stroke-opacity="0.34" stroke-width="1.35" stroke-linecap="square"/>
<path d="M1 1.2L4 0.5 M0.5 3H4.5 M2.5 0.8V10 M2.4 4L0.3 7.6 M2.7 4.4L4.3 6 M5.6 1.8L6.6 2.8 M5.6 4.3L6.6 5.3 M5 7.2L10 6.4 M8.5 0.4V10" transform="translate(17.4 -8) scale(1.6)" fill="none" stroke="#404040" stroke-opacity="0.34" stroke-width="1.35" stroke-linecap="square"/>
<path d="M2 1.4H8 M1.5 2.9H8.5 M0.5 4.5H9.5 M5 0.2V4.5 M4.6 4.6L1 7.6 M5.4 4.6L9.6 7.6 M5 6V10 M3 7.5L4.2 8.6 M7 7.5L5.9 8.6 M3.4 9.6L4.2 9 M6.6 9.6L5.8 9" transform="translate(42.8 -8) scale(1.6)" fill="none" stroke="#404040" stroke-opacity="0.34" stroke-width="1.35" stroke-linecap="square"/>
<path d="M2.6 0.5L1 4 M1.6 3H8.6 M2 6.1H8 M0.5 9.5H9.5 M5 0.5V9.5" transform="translate(68.2 -8) scale(1.6)" fill="none" stroke="#404040" stroke-opacity="0.34" stroke-width="1.35" stroke-linecap="square"/>
<path d="M1 2.5H9 M5 0.3V2.5L1 6.5 M5 2.5L9.5 6.5 M4.5 4.8L5.3 5.8 M1.5 8L1 9.6 M3 7V9.5H7 M5 7.1L5.6 8 M8 7.6L9.1 9" transform="translate(93.6 -8) scale(1.6)" fill="none" stroke="#404040" stroke-opacity="0.34" stroke-width="1.35" stroke-linecap="square"/>
<path d="M0.5 3H4 M2.3 0.5V9.5L1.3 9 M0.5 7.2L4 5.6 M4.8 2.5H9.8 M7.3 0.5V4.5 M5.5 4.6H9 L5 10 M6 6.2L10 10" transform="translate(119.0 -8) scale(1.6)" fill="none" stroke="#404040" stroke-opacity="0.34" stroke-width="1.35" stroke-linecap="square"/>
<path d="M0.5 3.6H9.5 M5 0.5V10 M4.8 4L0.5 8.6 M5.2 4L9.5 8.6 M6.5 0.8L7.5 1.8" transform="translate(144.4 -8) scale(1.6)" fill="none" stroke="#404040" stroke-opacity="0.34" stroke-width="1.35" stroke-linecap="square"/>
</g>
<g transform="translate(683.5 12.5) rotate(20.0)">
<g filter="url(#wol)" opacity="0.42"><path d="M13.8 -50.9 A11.5 11.5 0 1 0 13.8 -36.1 M-1 -43.5 H14 M33.2 -48.2 A9.5 9.5 0 1 0 33.2 -34.8 M61.5 -42 A9.5 9.5 0 1 0 42.5 -42 A9.5 9.5 0 1 0 61.5 -42 M67 -53.5 H91 M79 -53.5 V-30 M93.5 -41.5 H112.5 A9.5 9.5 0 1 0 109.7 -34.8 M131.2 -48.2 A9.5 9.5 0 1 0 131.2 -34.8 M138 -60 V-30 M138 -44 Q140 -50 146 -49.5 Q151 -49 151 -43 V-30" transform="translate(0 -42) scale(1.05 1.2) translate(0 42)" fill="none" stroke="#3cbf3c" stroke-width="6.6"/></g>
<circle cx="163" cy="-57" r="4" fill="none" stroke="#3cbf3c" stroke-opacity="0.55" stroke-width="0.7"/>
<text x="163" y="-54.8" font-size="6" text-anchor="middle" fill="none" stroke="#3cbf3c" stroke-opacity="0.55" stroke-width="0.5">R</text>
<line x1="-8.2" y1="-18.7" x2="165" y2="-18.7" stroke="#30a870" stroke-opacity="0.4" stroke-width="3"/>
<path d="M2.5 0.6H7.5V4.6H2.5Z M2.5 2.6H7.5 M1 5.6H8.6L8.2 9.4L7 9.9 M3.2 5.7L1 8.6 M5.3 6L2.6 9.6 M7.2 6.2L4.6 9.9" transform="translate(-8.0 -8) scale(1.6)" fill="none" stroke="#404040" stroke-opacity="0.34" stroke-width="1.35" stroke-linecap="square"/>
<path d="M1 1.2L4 0.5 M0.5 3H4.5 M2.5 0.8V10 M2.4 4L0.3 7.6 M2.7 4.4L4.3 6 M5.6 1.8L6.6 2.8 M5.6 4.3L6.6 5.3 M5 7.2L10 6.4 M8.5 0.4V10" transform="translate(17.4 -8) scale(1.6)" fill="none" stroke="#404040" stroke-opacity="0.34" stroke-width="1.35" stroke-linecap="square"/>
<path d="M2 1.4H8 M1.5 2.9H8.5 M0.5 4.5H9.5 M5 0.2V4.5 M4.6 4.6L1 7.6 M5.4 4.6L9.6 7.6 M5 6V10 M3 7.5L4.2 8.6 M7 7.5L5.9 8.6 M3.4 9.6L4.2 9 M6.6 9.6L5.8 9" transform="translate(42.8 -8) scale(1.6)" fill="none" stroke="#404040" stroke-opacity="0.34" stroke-width="1.35" stroke-linecap="square"/>
<path d="M2.6 0.5L1 4 M1.6 3H8.6 M2 6.1H8 M0.5 9.5H9.5 M5 0.5V9.5" transform="translate(68.2 -8) scale(1.6)" fill="none" stroke="#404040" stroke-opacity="0.34" stroke-width="1.35" stroke-linecap="square"/>
<path d="M1 2.5H9 M5 0.3V2.5L1 6.5 M5 2.5L9.5 6.5 M4.5 4.8L5.3 5.8 M1.5 8L1 9.6 M3 7V9.5H7 M5 7.1L5.6 8 M8 7.6L9.1 9" transform="translate(93.6 -8) scale(1.6)" fill="none" stroke="#404040" stroke-opacity="0.34" stroke-width="1.35" stroke-linecap="square"/>
<path d="M0.5 3H4 M2.3 0.5V9.5L1.3 9 M0.5 7.2L4 5.6 M4.8 2.5H9.8 M7.3 0.5V4.5 M5.5 4.6H9 L5 10 M6 6.2L10 10" transform="translate(119.0 -8) scale(1.6)" fill="none" stroke="#404040" stroke-opacity="0.34" stroke-width="1.35" stroke-linecap="square"/>
<path d="M0.5 3.6H9.5 M5 0.5V10 M4.8 4L0.5 8.6 M5.2 4L9.5 8.6 M6.5 0.8L7.5 1.8" transform="translate(144.4 -8) scale(1.6)" fill="none" stroke="#404040" stroke-opacity="0.34" stroke-width="1.35" stroke-linecap="square"/>
</g>
<g transform="translate(164.9 505.6) rotate(20.0)">
<g filter="url(#wol)" opacity="0.42"><path d="M13.8 -50.9 A11.5 11.5 0 1 0 13.8 -36.1 M-1 -43.5 H14 M33.2 -48.2 A9.5 9.5 0 1 0 33.2 -34.8 M61.5 -42 A9.5 9.5 0 1 0 42.5 -42 A9.5 9.5 0 1 0 61.5 -42 M67 -53.5 H91 M79 -53.5 V-30 M93.5 -41.5 H112.5 A9.5 9.5 0 1 0 109.7 -34.8 M131.2 -48.2 A9.5 9.5 0 1 0 131.2 -34.8 M138 -60 V-30 M138 -44 Q140 -50 146 -49.5 Q151 -49 151 -43 V-30" transform="translate(0 -42) scale(1.05 1.2) translate(0 42)" fill="none" stroke="#3cbf3c" stroke-width="6.6"/></g>
<circle cx="163" cy="-57" r="4" fill="none" stroke="#3cbf3c" stroke-opacity="0.55" stroke-width="0.7"/>
<text x="163" y="-54.8" font-size="6" text-anchor="middle" fill="none" stroke="#3cbf3c" stroke-opacity="0.55" stroke-width="0.5">R</text>
<line x1="-8.2" y1="-18.7" x2="165" y2="-18.7" stroke="#30a870" stroke-opacity="0.4" stroke-width="3"/>
<path d="M2.5 0.6H7.5V4.6H2.5Z M2.5 2.6H7.5 M1 5.6H8.6L8.2 9.4L7 9.9 M3.2 5.7L1 8.6 M5.3 6L2.6 9.6 M7.2 6.2L4.6 9.9" transform="translate(-8.0 -8) scale(1.6)" fill="none" stroke="#404040" stroke-opacity="0.34" stroke-width="1.35" stroke-linecap="square"/>
<path d="M1 1.2L4 0.5 M0.5 3H4.5 M2.5 0.8V10 M2.4 4L0.3 7.6 M2.7 4.4L4.3 6 M5.6 1.8L6.6 2.8 M5.6 4.3L6.6 5.3 M5 7.2L10 6.4 M8.5 0.4V10" transform="translate(17.4 -8) scale(1.6)" fill="none" stroke="#404040" stroke-opacity="0.34" stroke-width="1.35" stroke-linecap="square"/>
<path d="M2 1.4H8 M1.5 2.9H8.5 M0.5 4.5H9.5 M5 0.2V4.5 M4.6 4.6L1 7.6 M5.4 4.6L9.6 7.6 M5 6V10 M3 7.5L4.2 8.6 M7 7.5L5.9 8.6 M3.4 9.6L4.2 9 M6.6 9.6L5.8 9" transform="translate(42.8 -8) scale(1.6)" fill="none" stroke="#404040" stroke-opacity="0.34" stroke-width="1.35" stroke-linecap="square"/>
<path d="M2.6 0.5L1 4 M1.6 3H8.6 M2 6.1H8 M0.5 9.5H9.5 M5 0.5V9.5" transform="translate(68.2 -8) scale(1.6)" fill="none" stroke="#404040" stroke-opacity="0.34" stroke-width="1.35" stroke-linecap="square"/>
<path d="M1 2.5H9 M5 0.3V2.5L1 6.5 M5 2.5L9.5 6.5 M4.5 4.8L5.3 5.8 M1.5 8L1 9.6 M3 7V9.5H7 M5 7.1L5.6 8 M8 7.6L9.1 9" transform="translate(93.6 -8) scale(1.6)" fill="none" stroke="#404040" stroke-opacity="0.34" stroke-width="1.35" stroke-linecap="square"/>
<path d="M0.5 3H4 M2.3 0.5V9.5L1.3 9 M0.5 7.2L4 5.6 M4.8 2.5H9.8 M7.3 0.5V4.5 M5.5 4.6H9 L5 10 M6 6.2L10 10" transform="translate(119.0 -8) scale(1.6)" fill="none" stroke="#404040" stroke-opacity="0.34" stroke-width="1.35" stroke-linecap="square"/>
<path d="M0.5 3.6H9.5 M5 0.5V10 M4.8 4L0.5 8.6 M5.2 4L9.5 8.6 M6.5 0.8L7.5 1.8" transform="translate(144.4 -8) scale(1.6)" fill="none" stroke="#404040" stroke-opacity="0.34" stroke-width="1.35" stroke-linecap="square"/>
</g>
</svg>
</body></html>
